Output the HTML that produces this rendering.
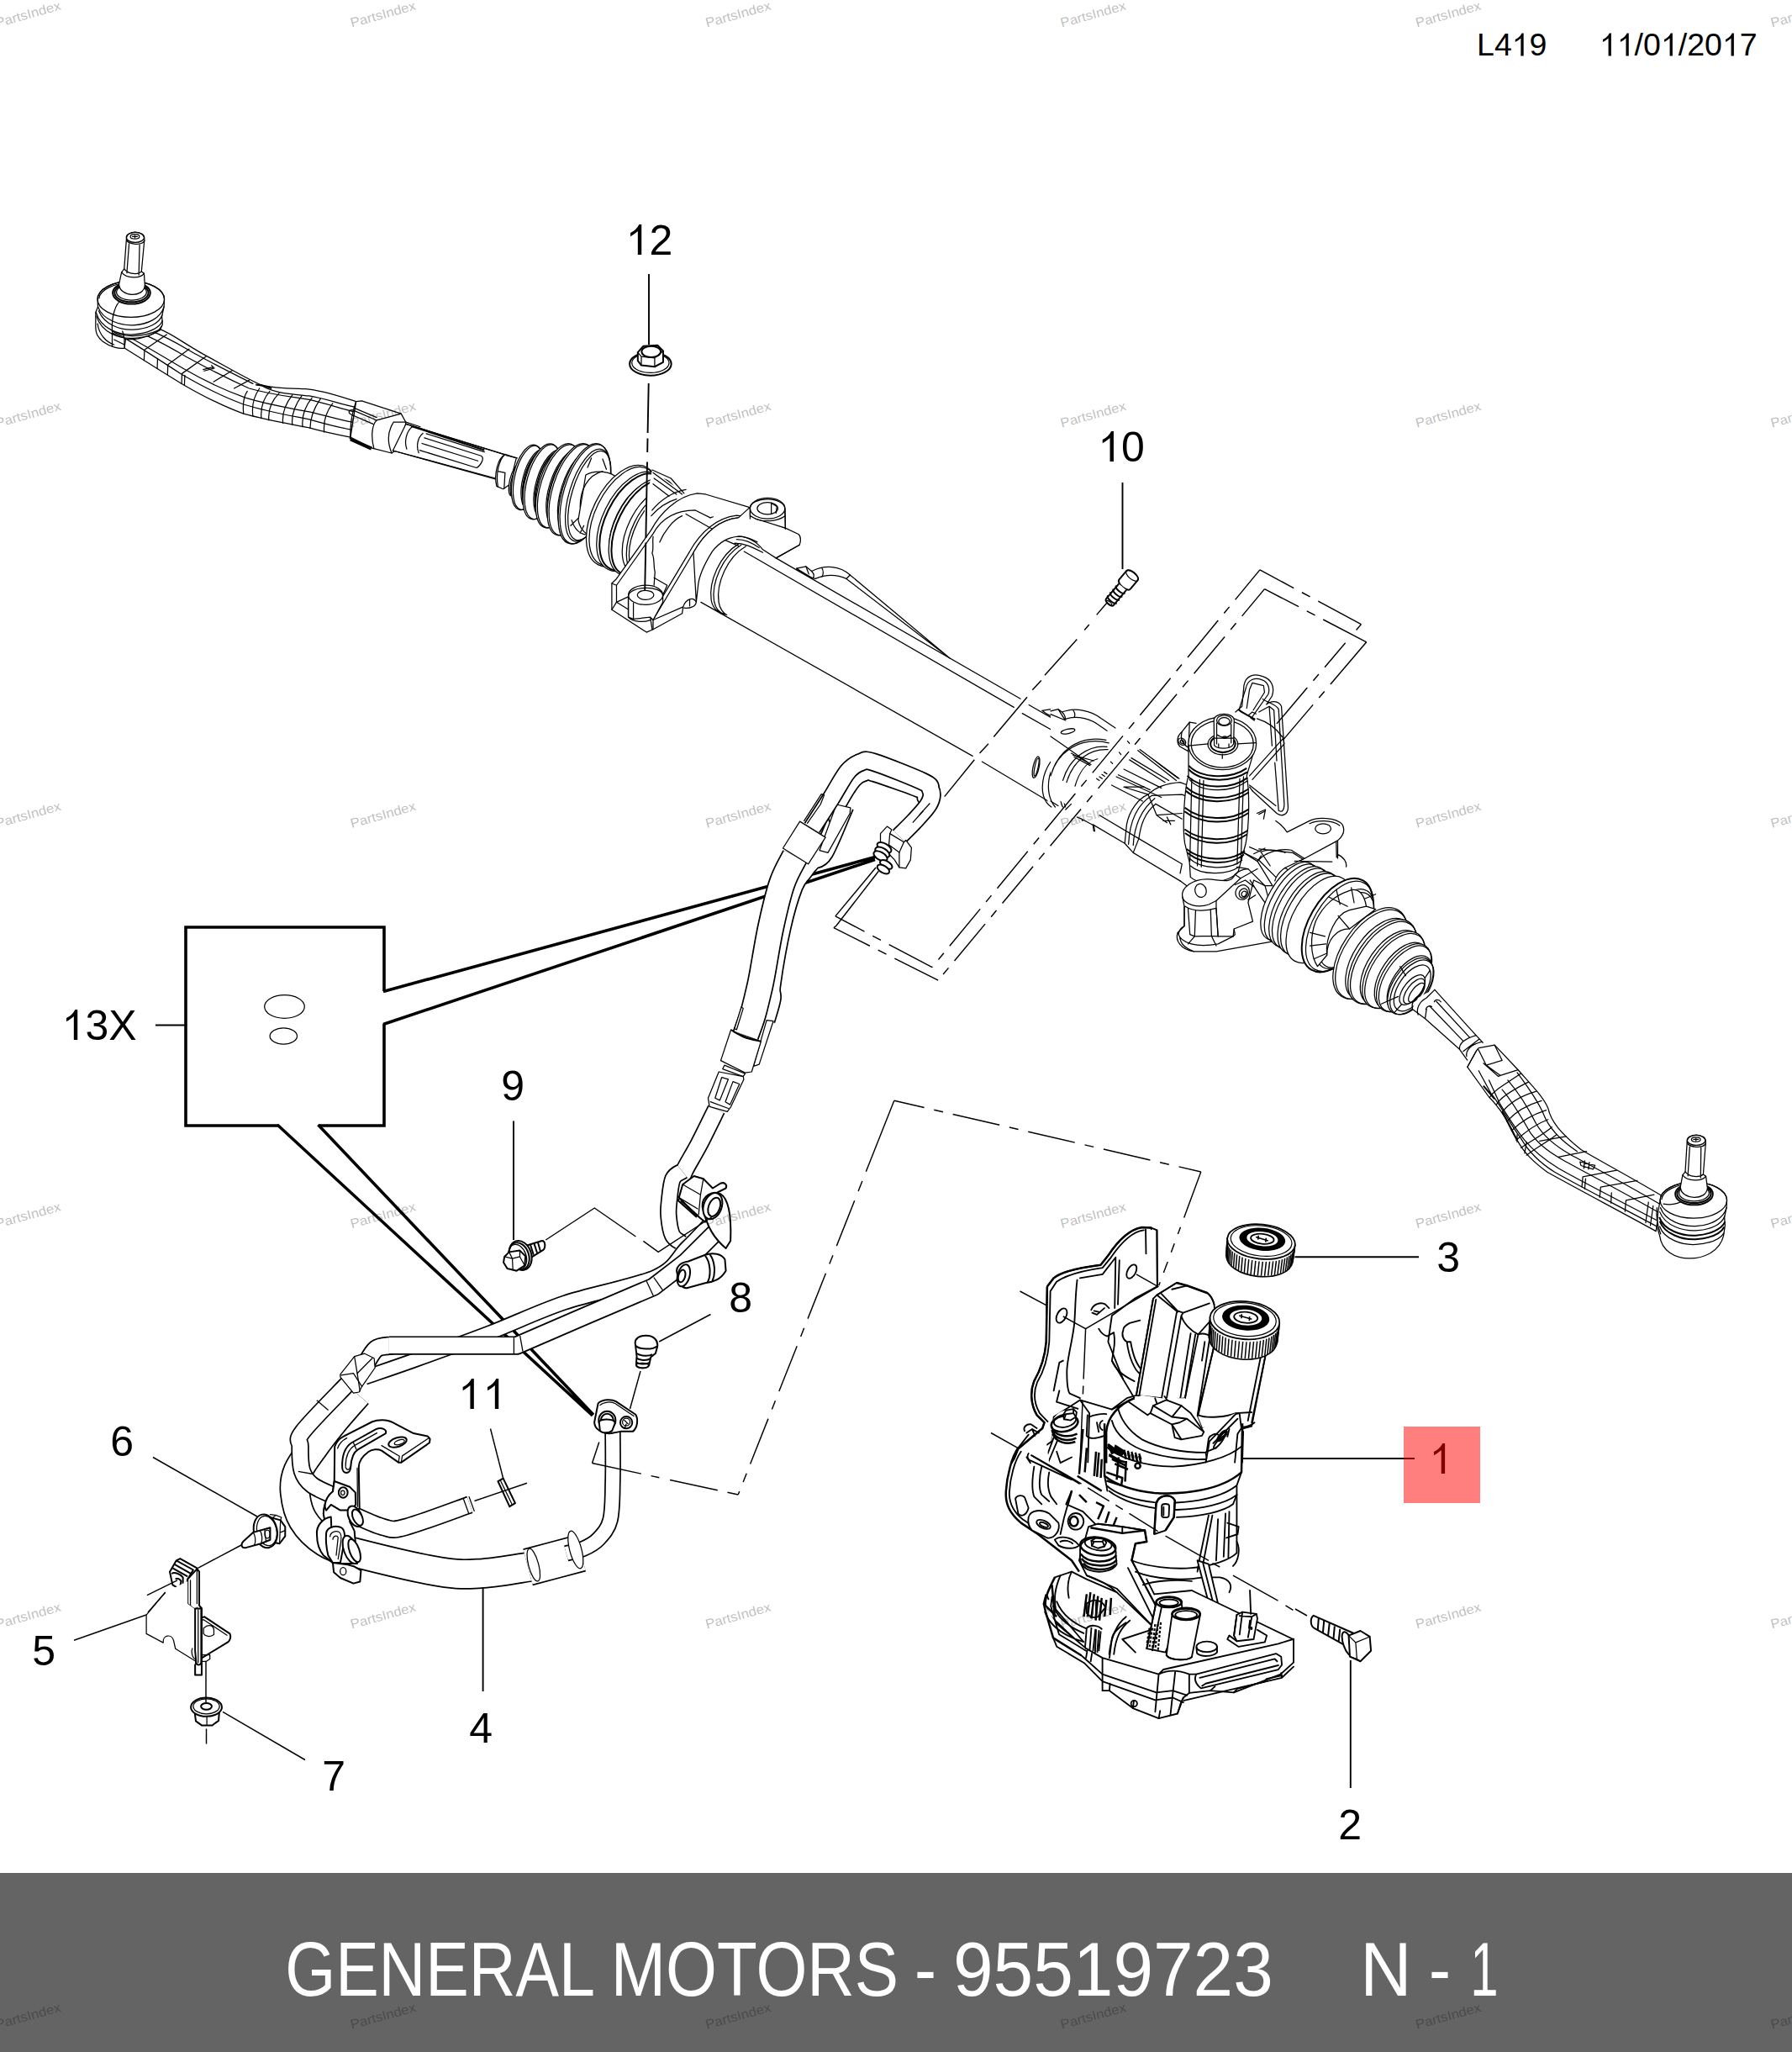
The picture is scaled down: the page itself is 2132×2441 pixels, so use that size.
<!DOCTYPE html>
<html><head><meta charset="utf-8"><title>GENERAL MOTORS - 95519723</title>
<style>
html,body{margin:0;padding:0;background:#fff;}
body{width:2132px;height:2441px;overflow:hidden;font-family:"Liberation Sans",sans-serif;}
svg{display:block;position:absolute;left:0;top:0;}
svg text{font-family:"Liberation Sans",sans-serif;}
.p{fill:none;stroke:#000;stroke-width:1.25;stroke-linecap:round;stroke-linejoin:round;vector-effect:non-scaling-stroke;}
.w{fill:#fff;stroke:#000;stroke-width:1.25;stroke-linecap:round;stroke-linejoin:round;vector-effect:non-scaling-stroke;}
.t{fill:none;stroke:#000;stroke-width:2;stroke-linecap:butt;stroke-linejoin:round;vector-effect:non-scaling-stroke;}
.tw{fill:#fff;stroke:#000;stroke-width:2;stroke-linejoin:round;vector-effect:non-scaling-stroke;}
.k{fill:none;stroke:#000;stroke-width:3.6;stroke-linecap:butt;stroke-linejoin:miter;vector-effect:non-scaling-stroke;}
.l{fill:none;stroke:#000;stroke-width:1.9;stroke-linecap:butt;vector-effect:non-scaling-stroke;}
.d{fill:none;stroke:#000;stroke-width:1.45;stroke-linecap:butt;vector-effect:non-scaling-stroke;}
.b{fill:#000;stroke:none;}
.q{fill:none;stroke:#000;stroke-width:1.85;stroke-linecap:round;stroke-linejoin:round;vector-effect:non-scaling-stroke;}
.wq{fill:#fff;stroke:#000;stroke-width:1.85;stroke-linecap:round;stroke-linejoin:round;vector-effect:non-scaling-stroke;}
.tq{fill:none;stroke:#000;stroke-width:2.5;stroke-linecap:butt;stroke-linejoin:round;vector-effect:non-scaling-stroke;}
.twq{fill:#fff;stroke:#000;stroke-width:2.5;stroke-linejoin:round;vector-effect:non-scaling-stroke;}
.f{fill:#fff;stroke:none;}
.n{font-size:50px;fill:#000;}
.wm{font-size:17.5px;fill:#b9b9b9;}
</style></head><body>
<svg width="2132" height="2441" viewBox="0 0 2132 2441">
<rect x="0" y="0" width="2132" height="2441" fill="#fff"/>
<!-- 10_callout.svg -->
<g id="callout">
<!-- 13X box -->
<path class="k" d="M457,1179 L457,1103 L221,1103 L221,1339 L331,1339 M379.5,1339 L457,1339 L457,1218"/>
<path class="k" d="M456,1179.5 L1041,1019.5 M456,1218.5 L1041,1022.5"/>
<path class="k" d="M330,1338 L705,1684 M378.5,1338 L706,1683"/>
<path class="l" d="M185,1219.5 L221,1219.5"/>
<ellipse class="p" cx="338.5" cy="1197.5" rx="23.8" ry="13.8"/>
<ellipse class="p" cx="337.3" cy="1232.5" rx="16.2" ry="9.6"/>
</g>

<!-- 20_tierod_left.svg -->
<g transform="translate(100,260) scale(0.223214)">
<!-- arm -->
<path class="w" d="M405,590 C470,615 540,670 640,725 C760,790 860,850 940,885 C1010,905 1100,905 1180,908 C1270,915 1370,950 1450,975 L1420,1165 C1340,1150 1290,1140 1200,1115 C1100,1095 980,1075 850,1040 C740,1000 640,950 520,880 C420,820 320,755 215,690 L150,680 L150,600 Z"/>
<path class="p" d="M215,690 L222,640 C320,700 420,765 520,830 C640,900 740,950 850,990 C980,1030 1100,1050 1200,1070 C1290,1095 1340,1110 1425,1125"/>
<path class="p" d="M228,625 C330,680 430,740 530,800 C650,870 750,915 860,955 C990,995 1100,1010 1200,1030 C1290,1050 1350,1070 1430,1085"/>
<path class="p" d="M300,610 C400,650 480,700 560,745 C680,810 780,860 880,905 C1000,940 1110,950 1200,965 C1290,985 1360,1010 1440,1030"/>
<path class="p" d="M360,600 C450,635 520,680 600,725 C700,780 800,830 900,880"/>
<path class="p" d="M940,885 C1000,930 1100,935 1200,945 C1290,960 1370,990 1445,1005"/>
<!-- cross lines -->
<path class="p" d="M320,755 L322,700 L440,618 M390,800 L392,745 M445,832 L447,778 L560,695 M520,880 L522,826 L650,735 M535,888 L537,835 M690,870 L790,810 M800,905 L880,862"/>
<path class="p" d="M850,1040 C845,990 850,950 870,920 M900,1053 C893,1000 900,955 935,905 M945,1065 C940,1010 955,960 990,920 M985,1075 C980,1020 1000,970 1040,930 M1060,1090 C1055,1040 1075,985 1110,940 M1110,1098 C1105,1050 1120,1000 1160,945 M1165,1110 C1160,1060 1175,1005 1215,955 M1205,1118 C1205,1065 1225,1010 1260,960 M1280,1138 C1275,1085 1290,1030 1325,985"/>
<path class="p" d="M635,805 L690,790 M640,812 L695,797 M680,782 L688,800"/>
<path class="t" d="M915,885 L960,892 L1000,905"/>
<!-- lock nut -->
<path class="w" d="M1450,975 L1480,972 L1690,1040 L1715,1085 L1700,1210 L1640,1250 L1540,1225 L1420,1165 Z"/>
<path class="p" d="M1420,1165 C1418,1100 1425,1040 1450,975 M1545,1225 C1525,1150 1540,1090 1560,1075 L1690,1040 M1560,1075 L1430,1020 C1410,1020 1405,1035 1425,1045 L1540,1095 M1640,1250 C1615,1190 1620,1130 1650,1085 L1715,1085 M1440,1010 L1560,1060"/>
<path class="t" d="M1415,1170 L1535,1222 M1418,1180 L1530,1230"/>
<!-- rod stub -->
<path class="p" d="M1715,1085 L1792,1110 M1700,1210 L1792,1245 M1740,1125 C1715,1150 1712,1190 1722,1215 M1785,1160 C1775,1180 1775,1210 1780,1235"/>
<!-- ball housing -->
<path class="w" d="M72,430 C72,377 152,334 250,334 C348,334 428,377 428,430 L426,470 L415,520 L418,565 L405,595 C330,640 260,650 215,640 L215,690 C190,695 140,685 100,655 C70,630 62,610 62,580 L62,500 L74,470 Z"/>
<ellipse class="p" cx="250" cy="430" rx="178" ry="96"/>
<path class="p" d="M80,425 C85,380 160,342 250,342"/>
<path class="p" d="M74,470 C100,545 200,570 260,568 C340,565 410,530 426,470"/>
<path class="p" d="M78,492 C110,570 200,595 262,592 C340,588 400,560 416,515"/>
<path class="p" d="M64,500 C90,590 190,622 262,618 C340,612 400,585 418,545"/>
<path class="p" d="M66,520 C95,610 190,642 262,638 C340,632 395,608 414,572"/>
<path class="p" d="M150,600 C200,630 300,640 405,592"/>
<path class="p" d="M72,560 C80,620 120,660 160,672 M150,600 L150,680 M215,640 L205,600 M160,645 L215,672 M150,610 L210,632"/>
<path class="p" d="M150,600 C145,520 170,450 195,440"/>
<!-- dust ring -->
<ellipse class="tw" cx="253" cy="397" rx="100" ry="58"/>
<ellipse class="t" cx="253" cy="395" rx="90" ry="50"/>
<ellipse class="p" cx="253" cy="392" rx="80" ry="43"/>
<!-- stud -->
<path class="w" d="M226,108 L214,268 L200,286 L186,350 C190,420 320,425 324,355 L320,292 L306,282 L322,112 C322,60 226,60 226,108 Z"/>
<ellipse class="p" cx="273" cy="100" rx="48" ry="27"/>
<ellipse class="p" cx="271" cy="96" rx="24" ry="12"/>
<path class="p" d="M258,96 L284,96 M271,90 L271,102"/>
<path class="p" d="M226,112 C235,140 310,145 322,118 M214,268 C235,298 290,300 306,282 M200,286 C225,320 300,322 320,292 M240,135 L228,290 M296,140 L292,300"/>
</g>

<!-- 22_boot_left.svg -->
<g transform="translate(400,440) scale(0.223214)">
<path class="w" d="M372,288 L900,452 L860,585 L302,430 Z"/>
<path class="t" d="M400,300 L790,428"/>
<path class="p" d="M372,288 L900,452 M302,430 L850,578"/>
<path class="p" d="M405,303 C372,330 362,385 376,422 M462,338 C432,362 426,410 440,442"/>
<path class="p" d="M470,362 L772,458 C795,468 768,512 748,522 L445,428 M457,392 L755,485 M480,340 L790,437"/>
<path class="w" d="M900,450 C860,470 840,560 855,620 L890,635 L925,610 L960,470 Z"/>
<path class="p" d="M900,450 C865,480 850,560 862,622 M862,540 L900,548 L895,632 M905,455 L965,470"/>
<ellipse class="w" cx="955.0" cy="590.0" rx="30.0" ry="85.0" transform="rotate(14.0 955.0 590.0)"/>
<ellipse class="p" cx="968.0" cy="590.0" rx="34.0" ry="95.0" transform="rotate(14.0 968.0 590.0)"/>
<ellipse class="w" cx="1017.5" cy="572.5" rx="74.6" ry="177.7" transform="rotate(13.8 1017.5 572.5)"/>
<ellipse class="p" cx="1024.5" cy="574.5" rx="72.6" ry="174.7" transform="rotate(13.8 1024.5 574.5)"/>
<ellipse class="w" cx="1064.2" cy="585.8" rx="69.5" ry="165.6" transform="rotate(14.6 1064.2 585.8)"/>
<ellipse class="t" cx="1069.2" cy="587.8" rx="66.5" ry="161.6" transform="rotate(14.6 1069.2 587.8)"/>
<ellipse class="w" cx="1095.0" cy="595.0" rx="87.1" ry="207.4" transform="rotate(15.4 1095.0 595.0)"/>
<ellipse class="p" cx="1102.0" cy="597.0" rx="85.1" ry="204.4" transform="rotate(15.4 1102.0 597.0)"/>
<ellipse class="w" cx="1145.5" cy="608.2" rx="79.6" ry="189.5" transform="rotate(16.4 1145.5 608.2)"/>
<ellipse class="t" cx="1150.5" cy="610.2" rx="76.6" ry="185.5" transform="rotate(16.4 1150.5 610.2)"/>
<ellipse class="w" cx="1180.0" cy="617.5" rx="98.0" ry="233.3" transform="rotate(17.5 1180.0 617.5)"/>
<ellipse class="p" cx="1187.0" cy="619.5" rx="96.0" ry="230.3" transform="rotate(17.5 1187.0 619.5)"/>
<ellipse class="w" cx="1224.2" cy="629.5" rx="88.1" ry="209.8" transform="rotate(17.6 1224.2 629.5)"/>
<ellipse class="t" cx="1229.2" cy="631.5" rx="85.1" ry="205.8" transform="rotate(17.6 1229.2 631.5)"/>
<ellipse class="w" cx="1252.5" cy="637.5" rx="106.9" ry="254.6" transform="rotate(17.7 1252.5 637.5)"/>
<ellipse class="p" cx="1259.5" cy="639.5" rx="104.9" ry="251.6" transform="rotate(17.7 1259.5 639.5)"/>
<ellipse class="w" cx="1294.2" cy="650.8" rx="96.0" ry="228.5" transform="rotate(17.3 1294.2 650.8)"/>
<ellipse class="t" cx="1299.2" cy="652.8" rx="93.0" ry="224.5" transform="rotate(17.3 1299.2 652.8)"/>
<ellipse class="w" cx="1320.0" cy="660.0" rx="116.3" ry="276.8" transform="rotate(16.8 1320.0 660.0)"/>
<ellipse class="p" cx="1327.0" cy="662.0" rx="114.3" ry="273.8" transform="rotate(16.8 1327.0 662.0)"/>
<ellipse class="w" cx="1342.0" cy="668.0" rx="100.3" ry="254.8" transform="rotate(16.8 1342.0 668.0)"/>
<ellipse class="p" cx="1350.0" cy="670.0" rx="94.3" ry="246.8" transform="rotate(16.8 1350.0 670.0)"/>
<path class="w" d="M1330,560 C1380,530 1470,540 1500,580 L1420,900 C1360,910 1300,860 1290,800 Z"/>
<path class="p" d="M1300,730 C1300,640 1340,560 1420,540 M1255,800 C1270,850 1300,880 1350,880 M1250,830 L1290,790 M1300,870 L1320,830 M1340,520 L1360,470 M1440,530 L1420,475"/>
</g>

<!-- 24_bracket_left.svg -->
<g transform="translate(700,540) scale(0.223214)">
<!-- bellows section 2 (ridges) -->
<g>
<ellipse class="w" cx="180" cy="330" rx="159" ry="290" transform="rotate(26 180 330)"/>
<ellipse class="p" cx="189" cy="333" rx="152" ry="283" transform="rotate(26 189 333)"/>
<ellipse class="w" cx="216" cy="350" rx="131" ry="250" transform="rotate(26 216 350)"/>
<ellipse class="w" cx="231" cy="360" rx="155" ry="285" transform="rotate(26 231 360)"/>
<ellipse class="t" cx="240" cy="363" rx="148" ry="278" transform="rotate(26 240 363)"/>
<ellipse class="w" cx="272" cy="378" rx="131" ry="250" transform="rotate(26 272 378)"/>
<ellipse class="w" cx="292" cy="390" rx="152" ry="280" transform="rotate(26 292 390)"/>
<ellipse class="t" cx="300" cy="393" rx="145" ry="273" transform="rotate(26 300 393)"/>
<ellipse class="w" cx="337" cy="410" rx="127" ry="245" transform="rotate(26 337 410)"/>
<ellipse class="w" cx="370" cy="425" rx="138" ry="255" transform="rotate(26 370 425)"/>
<ellipse class="p" cx="378" cy="428" rx="132" ry="248" transform="rotate(26 378 428)"/>
</g>
<!-- housing collar behind bracket -->
<path class="f" d="M340,85 L510,210 L700,330 L600,520 L330,560 L300,300 Z"/>
<path class="p" d="M340,85 L440,130 L510,210 M345,100 L500,215 M350,130 L470,215 M345,160 L430,225"/>
<path class="p" d="M340,300 C380,250 450,200 520,190 M335,330 C370,290 420,255 470,240"/>
<!-- tube -->
<path class="f" d="M800,480 L830,520 L2268,1350 L2468,1860 L600,790 C620,640 700,520 800,480 Z"/>
<path class="p" d="M830,520 L2268,1350 M600,790 L2048,1610 M2098,1640 L2468,1860"/>
<path class="p" d="M800,480 C700,540 640,680 655,780 C665,830 700,850 725,855 M840,492 C740,550 680,690 695,790 C700,825 720,850 738,858 M815,485 C715,545 655,685 670,785 C678,830 705,850 730,856"/>
<path class="p" d="M1000,555 L2303,1305"/>
<!-- small pipe on tube -->
<path class="w" d="M1110,610 L1160,600 L1190,625 C1260,590 1340,595 1395,645 L1928,1090 L1375,665 C1330,645 1270,640 1210,665 L1190,660 Z"/>
<path class="p" d="M1190,625 C1205,640 1205,655 1195,662 M1245,608 C1255,625 1252,645 1245,655 M1395,645 L1375,665 M1110,610 L1125,625 L1190,660 M1160,600 L1175,640"/>
<!-- bracket saddle: back arch + top -->
<path class="w" d="M125,690 L150,665 L335,405 C380,320 470,225 580,210 L625,215 L860,285 L860,350 L800,340 C700,350 620,420 560,525 L345,885 L345,935 L310,950 L125,830 Z"/>
<path class="p" d="M150,790 L150,700 L345,425 C395,335 480,300 570,300 L650,340 M150,790 L215,760 M125,690 L150,700"/>
<path class="p" d="M345,885 L330,870 L340,935 M330,870 L540,520 C600,410 690,340 790,328 L860,335 M125,830 L150,790 L215,830"/>
<path class="p" d="M345,440 C340,480 350,500 340,530 C355,560 345,590 355,630 L350,700 M500,330 C450,350 400,420 380,470 M520,320 L660,400 M650,340 L665,335"/>
<!-- boss with hole -->
<path class="w" d="M213,760 C213,700 397,700 397,755 L397,790 L345,885 L330,870 L240,880 L213,870 Z"/>
<ellipse class="p" cx="305" cy="752" rx="92" ry="52"/>
<ellipse class="p" cx="305" cy="752" rx="44" ry="25"/>
<path class="p" d="M213,760 L213,870 M240,795 L240,880 M213,870 C240,895 290,900 330,885"/>
<path class="p" d="M345,885 L505,815 M345,935 L500,850 L505,815 C520,770 560,760 575,790 C570,815 540,825 510,820 M540,775 L540,810"/>
<path class="p" d="M350,660 L420,700 L400,745 M585,700 C560,690 570,660 590,650 M590,650 L600,600 C590,590 600,570 610,560"/>
<!-- front arch right leg and top plate -->
<path class="w" d="M860,285 L870,330 L1050,395 L1120,428 C1135,440 1132,470 1125,485 L1000,555 L930,510 C900,470 850,440 800,440 C740,445 700,470 660,520 C610,600 590,650 585,700 L575,790 L560,525 C620,420 700,350 800,340 Z"/>
<path class="p" d="M730,460 L800,490 M800,440 C850,440 880,460 900,470 M790,455 C840,455 880,478 910,500 M780,475 C830,475 870,495 930,525 M1000,555 L1125,485 M1050,395 L1050,400"/>
<!-- top-right boss -->
<path class="w" d="M862,290 C862,225 1048,225 1048,295 L1050,395 L890,345 L862,330 Z"/>
<ellipse class="p" cx="955" cy="290" rx="93" ry="55"/>
<ellipse class="p" cx="955" cy="290" rx="55" ry="32"/>
<path class="p" d="M975,262 L1005,280 L1000,315 M975,262 L975,320 M862,290 L862,345 M1048,295 L1050,395 M890,345 C930,365 1010,360 1048,330"/>
</g>

<!-- 26_valve_collar.svg -->
<g transform="translate(1050,660) scale(0.223214)">
<!-- collar where tube meets valve housing -->
<path class="f" d="M850,830 L905,822 L930,845 C1000,815 1080,830 1130,870 L1250,950 L1300,1000 L1792,1200 L1792,1344 L900,1344 C850,1280 840,1150 870,1050 C890,990 930,950 980,940 L850,845 Z"/>
<path class="p" d="M780,800 L1085,975 M745,845 L1010,995"/>
<path class="p" d="M850,830 L905,822 L930,845 C1000,815 1080,830 1130,870 L1250,950 M850,830 L870,845 L945,885 M905,822 L945,885 C990,860 1060,865 1110,900 L1205,975 M930,845 C950,860 950,880 945,885 M990,828 C1000,845 1000,860 995,868 M1130,870 L1118,905"/>
<ellipse class="p" cx="985" cy="940" rx="38" ry="12" transform="rotate(-12 985 940)"/>
<ellipse class="p" cx="988" cy="941" rx="28" ry="7" transform="rotate(-12 988 941)"/>
<ellipse class="p" cx="818" cy="1132" rx="16" ry="58" transform="rotate(12 818 1132)"/>
<ellipse class="p" cx="820" cy="1132" rx="9" ry="48" transform="rotate(12 820 1132)"/>
<path class="p" d="M1200,1000 C1050,960 900,1040 860,1180 C840,1260 860,1320 900,1344"/>
<path class="p" d="M1180,985 C1060,960 930,1030 890,1180 C875,1250 890,1310 920,1344"/>
<path class="p" d="M1190,1020 C1090,1010 990,1080 955,1200 C940,1260 945,1310 960,1344"/>
<path class="p" d="M1200,1035 C1100,1030 1010,1090 975,1210 C960,1270 965,1320 975,1344"/>
<path class="p" d="M1140,1085 C1080,1100 1040,1160 1020,1230"/>
<path class="p" d="M1010,1065 L1120,1095 M1015,1075 L1100,1120 M1020,1085 C1040,1110 1050,1120 1085,1140"/>
<path class="p" d="M1355,1040 L1560,1200 M1365,1035 L1575,1190 M1310,1090 L1500,1210 M1320,1080 L1520,1200 M1240,1180 L1480,1290 M1250,1170 L1420,1250 M1215,1225 L1380,1310 M1280,1140 L1480,1240"/>
<path class="p" d="M1135,1190 L1150,1200 M1150,1180 L1165,1190 M1163,1168 L1178,1178 M1175,1155 L1190,1165 M1210,1100 L1220,1110 M1255,1050 L1265,1062 M1300,990 L1310,1002"/>
</g>

<!-- 28_pinion_tower.svg -->
<g transform="translate(1250,780) scale(0.223214)">
<!-- housing body behind tower -->
<path class="f" d="M0,280 L60,290 C150,270 230,300 280,340 L400,420 L640,640 L735,700 L735,1180 L690,1200 L420,1020 L380,960 L0,745 Z"/>
<!-- pipe clip upper-left -->
<path class="p" d="M0,295 L40,285 L60,300 C130,275 215,290 270,335 L345,385 M0,312 L80,345 M40,285 L75,340 C120,320 190,325 245,362 L300,400 M60,300 C78,315 80,335 75,340 M120,290 C130,305 130,320 126,328"/>
<ellipse class="p" cx="92" cy="403" rx="38" ry="12" transform="rotate(-12 92 403)"/>
<path class="p" d="M0,430 L215,580 M110,520 L215,580"/>
<!-- collar arcs -->
<path class="p" d="M310,465 C170,430 40,500 0,640 M295,450 C180,425 60,480 10,610 M300,485 C200,475 100,545 65,665 M305,500 C210,495 120,555 85,675 M250,550 C190,565 150,625 130,695"/>
<path class="p" d="M120,530 L230,560 M125,540 L210,585"/>
<path class="p" d="M465,505 L670,665 M475,500 L685,655 M420,555 L610,675 M430,545 L630,665 M350,645 L590,755 M360,635 L530,715 M325,690 L490,775 M390,605 L590,705"/>
<path class="p" d="M245,655 L260,665 M260,645 L275,655 M273,633 L288,643 M285,620 L300,630 M320,565 L330,575 M365,515 L375,527 M410,455 L420,467"/>
<path class="p" d="M0,775 L40,800 M80,820 L110,790 M140,860 L165,870 L230,905 L235,935 M165,870 L170,880"/>
<!-- rack housing lower body -->
<path class="p" d="M225,900 L395,1000 L440,1050 L690,1200 M260,850 L470,975 M230,935 L225,900 M395,1000 L405,900 C420,820 470,760 520,740 M415,1005 C420,900 450,800 540,745 M440,1010 C445,920 470,830 555,760 M470,975 C480,900 500,840 560,790 M440,1050 L470,975"/>
<path class="p" d="M520,740 C560,700 620,680 690,675 L730,690 M540,745 L700,740 L730,752 M500,700 L390,700 L520,740 M520,740 L565,850 L700,840 M565,850 L620,890 M620,860 L640,900 M600,880 L660,880"/>
<path class="p" d="M470,975 L700,1110 M560,790 L700,870 M690,1200 L730,1230 M690,1160 L700,1110"/>
<!-- right mounting ear / body behind -->
<path class="f" d="M1060,640 L1150,700 L1260,940 L1380,880 C1420,860 1520,860 1555,900 C1570,930 1560,960 1530,985 L1530,1080 L1345,1085 L1290,1050 L1060,1000 Z"/>
<path class="p" d="M1260,940 L1380,880 C1420,860 1520,860 1555,900 C1570,930 1560,960 1530,985 L1345,1085 L1290,1050 M1380,895 C1420,875 1500,875 1540,905 M1110,1030 L1290,1050 L1345,1085 M1530,985 L1530,1080 M1522,990 L1524,1075 M1530,1060 C1560,1070 1580,1100 1575,1125 M1260,940 C1250,925 1230,900 1200,880"/>
<ellipse class="p" cx="1452" cy="922" rx="42" ry="27"/>
<path class="p" d="M1060,1020 L1120,1045 L1170,1120 M1030,1050 L1110,1090 L1200,1180 M1120,1045 C1160,1030 1220,1035 1250,1050 M1345,1085 L1250,1130 C1220,1150 1200,1180 1195,1200 M1250,1130 L1290,1160 M1300,1095 L1500,1098"/>

<!-- retaining wire clip -->
<path class="p" d="M985,300 L1020,270 L1030,160 C1040,100 1090,95 1130,110 C1180,125 1195,170 1180,215 L1150,260 C1170,240 1215,235 1230,270 L1265,800 C1270,850 1230,860 1205,840 L1075,720"/>
<path class="p" d="M1005,285 L1040,175 C1050,125 1090,115 1125,128 C1160,140 1170,175 1160,205 L1075,325 M1060,180 L1075,145 L1135,160 L1140,195 L1080,290 M1060,180 L1045,280 M1130,230 C1150,250 1200,255 1215,285 L1245,790 C1245,830 1230,835 1215,825 L1195,570 M1110,300 L1165,270 L1190,290 L1205,560 M1165,270 L1180,480"/>
<path class="p" d="M1100,335 C1150,350 1200,380 1240,440 L1060,640 M1240,440 L1245,470 L1075,660 M1060,690 L1200,800 M1075,720 L1060,700 M1100,840 L1145,820 L1135,870 M1110,845 L1140,830"/>
<path class="t" d="M1000,285 C1010,300 1050,315 1090,340"/>
<path class="p" d="M1050,320 L1075,300 L1095,310 M1065,330 L1085,345"/>
<!-- left small ear w/ screw -->
<path class="w" d="M740,355 L700,405 C670,430 670,465 690,485 L735,510 Z"/>
<path class="p" d="M740,355 L775,360 M700,405 C690,440 700,470 735,490"/>
<ellipse class="p" cx="700" cy="458" rx="22" ry="16" transform="rotate(35 700 458)"/>
<ellipse class="p" cx="702" cy="460" rx="12" ry="8" transform="rotate(35 702 460)"/>
<!-- tower cage body -->
<path class="w" d="M735,470 L735,640 C715,700 700,900 715,1000 L740,1100 L745,1180 C800,1230 960,1210 1000,1150 L1040,1000 C1060,900 1060,720 1045,640 L1095,470 Z"/>
<!-- cage rings -->
<path class="t" d="M735,585 C800,655 960,660 1045,600"/>
<path class="t" d="M735,605 C800,675 960,680 1048,620"/>
<path class="t" d="M728,640 C800,712 960,716 1050,650"/>
<path class="t" d="M722,700 C800,772 960,776 1055,710"/>
<path class="t" d="M720,720 C800,790 960,796 1056,728"/>
<path class="t" d="M715,810 C800,880 960,884 1056,818"/>
<path class="t" d="M714,830 C800,900 960,904 1055,838"/>
<path class="t" d="M714,925 C800,992 960,996 1050,932"/>
<path class="t" d="M716,945 C800,1012 960,1016 1046,952"/>
<path class="t" d="M725,1030 C800,1095 960,1100 1035,1040"/>
<path class="t" d="M730,1050 C800,1115 960,1120 1030,1060"/>

<path class="p" d="M740,660 C800,730 960,735 1048,668 M740,1080 C800,1140 960,1145 1020,1090 M745,1120 C800,1170 940,1172 1005,1125"/>
<path class="p" d="M795,660 L782,1120 M815,665 L803,1125 M1008,655 L994,1110 M1028,645 L1014,1098 M752,655 L742,1095"/>
<!-- top cap -->
<ellipse class="w" cx="915" cy="468" rx="181" ry="140"/>
<ellipse class="p" cx="915" cy="470" rx="166" ry="126"/>
<path class="p" d="M735,480 L840,470 M995,470 L1095,464 M915,525 L915,548"/>
<ellipse class="p" cx="918" cy="472" rx="80" ry="56"/>
<ellipse class="t" cx="918" cy="470" rx="66" ry="45"/>
<!-- shaft -->
<path class="w" d="M870,345 C870,300 978,300 978,345 L975,470 C960,500 890,500 872,478 Z"/>
<ellipse class="p" cx="925" cy="345" rx="40" ry="28"/>
<ellipse class="p" cx="925" cy="350" rx="30" ry="20"/>
<path class="p" d="M885,360 L885,470 M962,365 L962,465 M885,420 C910,440 945,440 962,420 M870,440 L975,440 M895,470 L895,490 M950,470 L950,488"/>
<ellipse class="p" cx="928" cy="435" rx="10" ry="6"/>
</g>

<!-- 30_boot_right.svg -->
<g transform="translate(1380,980) scale(0.223214)">
<path class="w" d="M120,390 C110,340 180,290 260,295 C330,300 380,320 400,270 L430,290 L300,410 L300,450 L310,600 L390,600 L395,560 L495,520 L470,420 L500,300 L560,330 L640,620 L300,680 L180,680 C110,670 80,620 95,580 L130,545 L130,440 Z"/>
<path class="p" d="M120,390 C130,430 200,450 260,430 L300,410 M135,440 C180,470 250,465 300,450 M130,440 L130,545 M150,452 L160,590 M190,462 L185,600 M270,458 L275,598 M300,450 L310,600 M160,590 L185,600 L275,598 L310,600 M95,580 C110,640 200,660 310,640 L390,600 M130,545 C110,555 100,570 100,590 M180,680 C130,660 110,640 105,600 M185,600 L150,640 M275,598 L300,650"/>
<ellipse class="p" cx="217.0" cy="356.0" rx="36.0" ry="30.0" transform="rotate(75.0 217.0 356.0)"/>
<path class="p" d="M400,270 C420,250 440,240 470,240 M430,290 L520,240 M395,560 L400,590 L390,600"/>
<ellipse class="w" cx="440.0" cy="365.0" rx="36.0" ry="40.0" transform="rotate(30.0 440.0 365.0)"/>
<ellipse class="p" cx="445.0" cy="370.0" rx="22.0" ry="26.0" transform="rotate(30.0 445.0 370.0)"/>
<ellipse class="p" cx="448.0" cy="373.0" rx="12.0" ry="15.0" transform="rotate(30.0 448.0 373.0)"/>
<path class="p" d="M400,325 L455,300 L500,335 M470,405 L510,380 M480,300 C500,330 530,380 560,420"/>
<path class="p" d="M440,150 L520,200 L600,330 M520,200 C560,150 640,130 700,140 L770,185 M600,330 L560,330 M410,230 L470,240 L560,330 M500,160 L560,130 M520,200 L540,170"/>
<ellipse class="w" cx="688.0" cy="412.0" rx="112.0" ry="232.0" transform="rotate(30.0 688.0 412.0)"/>
<ellipse class="p" cx="708.0" cy="424.0" rx="112.0" ry="232.0" transform="rotate(30.0 708.0 424.0)"/>
<ellipse class="w" cx="738.0" cy="442.0" rx="118.0" ry="238.0" transform="rotate(30.0 738.0 442.0)"/>
<ellipse class="p" cx="755.0" cy="452.0" rx="118.0" ry="238.0" transform="rotate(30.0 755.0 452.0)"/>
<ellipse class="w" cx="790.0" cy="474.0" rx="124.0" ry="244.0" transform="rotate(30.0 790.0 474.0)"/>
<ellipse class="p" cx="806.0" cy="484.0" rx="124.0" ry="244.0" transform="rotate(30.0 806.0 484.0)"/>
<ellipse class="w" cx="845.0" cy="510.0" rx="135.0" ry="255.0" transform="rotate(30.0 845.0 510.0)"/>
<ellipse class="tw" cx="945.0" cy="540.0" rx="150.0" ry="275.0" transform="rotate(30.0 945.0 540.0)"/>
<ellipse class="p" cx="958.0" cy="546.0" rx="142.0" ry="265.0" transform="rotate(30.0 958.0 546.0)"/>
<ellipse class="w" cx="985.0" cy="560.0" rx="118.0" ry="235.0" transform="rotate(30.0 985.0 560.0)"/>
<ellipse class="p" cx="995.0" cy="566.0" rx="108.0" ry="222.0" transform="rotate(30.0 995.0 566.0)"/>
<path class="w" d="M1000,360 C1060,330 1090,380 1100,440 L1150,455 L1010,560 C940,560 890,620 890,700 L840,760 C800,700 800,600 830,520 C870,430 940,380 1000,360 Z"/>
<path class="p" d="M890,700 C880,600 940,480 1010,460 L1100,440 M940,350 L960,430 M1020,340 L1035,420 M900,390 L1000,440 M800,580 L880,600 M800,650 L885,640 M820,720 L890,690 M1010,560 L950,490 M1150,375 L1090,400"/>
<ellipse class="w" cx="1120.0" cy="690.0" rx="150.0" ry="275.0" transform="rotate(34.0 1120.0 690.0)"/>
<ellipse class="p" cx="1128.0" cy="696.0" rx="145.0" ry="270.0" transform="rotate(34.0 1128.0 696.0)"/>
<ellipse class="w" cx="1166.5" cy="722.5" rx="134.0" ry="247.0" transform="rotate(34.0 1166.5 722.5)"/>
<ellipse class="w" cx="1185.0" cy="735.0" rx="138.0" ry="255.0" transform="rotate(34.0 1185.0 735.0)"/>
<ellipse class="p" cx="1193.0" cy="741.0" rx="133.0" ry="250.0" transform="rotate(34.0 1193.0 741.0)"/>
<ellipse class="w" cx="1229.0" cy="766.5" rx="121.5" ry="225.5" transform="rotate(34.0 1229.0 766.5)"/>
<ellipse class="w" cx="1245.0" cy="778.0" rx="125.0" ry="232.0" transform="rotate(34.0 1245.0 778.0)"/>
<ellipse class="p" cx="1253.0" cy="784.0" rx="120.0" ry="227.0" transform="rotate(34.0 1253.0 784.0)"/>
<ellipse class="w" cx="1286.5" cy="809.0" rx="107.5" ry="200.5" transform="rotate(34.0 1286.5 809.0)"/>
<ellipse class="w" cx="1300.0" cy="820.0" rx="110.0" ry="205.0" transform="rotate(34.0 1300.0 820.0)"/>
<ellipse class="p" cx="1308.0" cy="826.0" rx="105.0" ry="200.0" transform="rotate(34.0 1308.0 826.0)"/>
<ellipse class="w" cx="1331.5" cy="852.5" rx="91.0" ry="169.5" transform="rotate(34.0 1331.5 852.5)"/>
<ellipse class="w" cx="1335.0" cy="865.0" rx="92.0" ry="170.0" transform="rotate(34.0 1335.0 865.0)"/>
<ellipse class="p" cx="1343.0" cy="871.0" rx="87.0" ry="165.0" transform="rotate(34.0 1343.0 871.0)"/>
<ellipse class="p" cx="1345.0" cy="875.0" rx="72.0" ry="140.0" transform="rotate(34.0 1345.0 875.0)"/>
<path class="p" d="M1280,760 L1310,810 M1440,780 L1400,840 M1180,960 L1270,920 M1250,1005 L1290,960"/>
<ellipse class="w" cx="1345.0" cy="885.0" rx="45.0" ry="95.0" transform="rotate(38.0 1345.0 885.0)"/>
<ellipse class="p" cx="1355.0" cy="892.0" rx="36.0" ry="80.0" transform="rotate(38.0 1355.0 892.0)"/>
<ellipse class="p" cx="1368.0" cy="900.0" rx="26.0" ry="62.0" transform="rotate(38.0 1368.0 900.0)"/>
</g>

<!-- 34_tierod_right.svg -->
<g transform="translate(1680,1180) scale(0.223214)">
<!-- arm -->
<path class="w" d="M350,300 L440,283 L560,410 C640,500 700,560 725,620 C740,690 790,750 900,840 C1000,900 1100,950 1330,1085 L1300,1275 C1100,1165 900,1060 720,960 C640,900 600,860 560,790 C520,700 470,620 410,560 L295,400 Z"/>
<path class="p" d="M350,300 L295,400 M350,300 L395,390 L480,365 L440,283 M395,390 L470,445 L565,415 M470,445 L460,450 L380,380 M355,420 L420,540 M410,470 L470,600"/>
<path class="t" d="M380,500 L440,570 M480,640 C510,690 530,740 560,790"/>
<path class="p" d="M420,540 C470,600 520,700 580,780 C620,850 680,910 760,960 C900,1040 1100,1140 1305,1250"/>
<path class="p" d="M470,600 C510,660 550,730 600,790 C650,850 700,890 780,940 C920,1020 1100,1110 1310,1220"/>
<path class="p" d="M510,470 C570,540 620,620 660,700 C700,770 760,820 850,870 C980,940 1150,1030 1320,1130"/>
<path class="p" d="M560,430 C620,510 670,580 700,650 C730,730 790,790 880,850"/>
<path class="p" d="M480,520 C540,590 590,680 630,750 C680,820 740,860 820,905 C950,975 1120,1065 1315,1175"/>
<!-- cross mesh -->
<path class="p" d="M415,560 C440,520 500,490 580,435 M450,600 C470,560 540,520 620,480 M480,640 C520,590 590,550 660,530 M505,690 C550,640 620,600 690,580 M530,740 C580,690 650,650 715,630 M555,790 C610,740 670,700 725,680 M580,830 C640,790 700,760 745,720 M610,870 C660,830 720,800 770,760 M560,800 L560,760 M600,860 L610,800"/>
<path class="p" d="M680,795 L820,770 M780,880 L930,850 M905,1040 L910,985 L1090,950 M920,1050 L925,995 M1000,1095 L1005,1040 L1200,1005 M1060,1125 L1063,1070 M1135,1170 L1140,1110 L1290,1080 M1245,1230 L1260,1120 M1270,1245 L1285,1140"/>
<path class="p" d="M895,905 L975,925 L965,945 L900,925 Z M920,900 L915,940 M945,908 L940,945"/>
<!-- ball housing -->
<path class="w" d="M1322,1110 C1322,1057 1402,1014 1500,1014 C1598,1014 1678,1057 1678,1110 L1676,1150 L1665,1200 L1668,1245 L1660,1300 C1640,1380 1560,1420 1480,1420 C1400,1420 1330,1380 1320,1300 L1305,1250 L1310,1180 Z"/>
<ellipse class="p" cx="1500" cy="1110" rx="178" ry="96"/>
<path class="p" d="M1330,1105 C1335,1060 1410,1022 1500,1022"/>
<path class="p" d="M1324,1150 C1350,1225 1450,1250 1510,1248 C1590,1245 1660,1210 1676,1150"/>
<path class="p" d="M1320,1172 C1350,1250 1450,1275 1512,1272 C1590,1268 1650,1240 1666,1195"/>
<path class="t" d="M1318,1200 C1340,1270 1440,1302 1512,1298 C1590,1292 1650,1265 1668,1225"/>
<path class="t" d="M1320,1222 C1345,1290 1440,1322 1512,1318 C1590,1312 1645,1288 1664,1252"/>
<path class="p" d="M1320,1250 C1345,1320 1440,1350 1512,1346 C1590,1340 1640,1320 1662,1285"/>
<path class="p" d="M1305,1150 C1300,1200 1310,1250 1325,1290 M1340,1130 C1400,1140 1440,1120 1450,1100"/>
<!-- dust ring -->
<ellipse class="tw" cx="1503" cy="1077" rx="100" ry="58"/>
<ellipse class="t" cx="1503" cy="1075" rx="90" ry="50"/>
<ellipse class="p" cx="1503" cy="1072" rx="80" ry="43"/>
<!-- stud -->
<path class="w" d="M1466,798 L1456,958 L1442,976 L1430,1040 C1434,1110 1570,1115 1574,1045 L1566,982 L1552,972 L1565,802 C1565,750 1466,750 1466,798 Z"/>
<ellipse class="p" cx="1515" cy="790" rx="49" ry="27"/>
<ellipse class="p" cx="1513" cy="786" rx="24" ry="12"/>
<path class="p" d="M1500,786 L1526,786 M1513,780 L1513,792"/>
<path class="p" d="M1466,802 C1475,830 1550,835 1565,808 M1456,958 C1477,988 1532,990 1552,972 M1442,976 C1467,1010 1546,1012 1566,982 M1480,825 L1470,980 M1540,830 L1538,990"/>
</g>

<!-- 35_rod_right.svg -->
<g transform="translate(1580,1100) scale(0.167411)">
<path class="f" d="M598,598 L640,520 L700,485 L758,462 L1100,838 L985,965 L935,890 Z"/>
<path class="p" d="M758,462 L1052,786 M600,600 L690,668 L935,886 M770,545 L1005,800 M722,578 L962,828 M700,600 L690,668"/>
<path class="p" d="M755,548 C762,528 790,530 802,548 M695,602 C700,580 722,572 738,582"/>
<path class="p" d="M935,886 C930,850 965,812 1052,786 M985,935 C978,892 1012,852 1090,832 M935,886 L990,962 M1052,786 L1100,838 M960,900 L1075,812"/>
<path class="p" d="M600,600 C590,560 610,520 650,500 M640,640 C625,600 645,550 700,520 L758,462"/>
</g>

<!-- 40_hoses.svg -->
<g id="hoses">
<path d="M1004.0,958.1 C1000.0,967.3 986.2,1002.2 979.9,1013.0 C973.6,1023.8 970.2,1019.0 966.1,1022.9 C961.9,1026.7 958.7,1031.0 954.9,1036.2 C951.1,1041.5 947.5,1043.3 943.3,1054.1 C939.1,1064.9 933.9,1081.6 929.5,1101.0 C925.1,1120.3 919.0,1155.7 917.0,1170.2 C914.9,1184.7 918.2,1180.7 917.1,1187.9 C915.9,1195.2 911.1,1209.3 909.9,1213.6" fill="none" stroke="#000" stroke-width="25.40" stroke-linecap="butt" stroke-linejoin="round"/>
<path d="M1004.0,958.1 C1000.0,967.3 986.2,1002.2 979.9,1013.0 C973.6,1023.8 970.2,1019.0 966.1,1022.9 C961.9,1026.7 958.7,1031.0 954.9,1036.2 C951.1,1041.5 947.5,1043.3 943.3,1054.1 C939.1,1064.9 933.9,1081.6 929.5,1101.0 C925.1,1120.3 919.0,1155.7 917.0,1170.2 C914.9,1184.7 918.2,1180.7 917.1,1187.9 C915.9,1195.2 911.1,1209.3 909.9,1213.6" fill="none" stroke="#fff" stroke-width="22.00" stroke-linecap="butt" stroke-linejoin="round"/>

<path d="M992.9,973.8 C994.0,971.0 995.9,964.4 1000.0,957.0 C1004.1,949.6 1012.5,935.4 1017.4,929.6 C1022.4,923.7 1026.0,923.1 1029.7,922.0 C1033.3,920.8 1028.3,919.4 1039.3,922.9 C1050.3,926.4 1085.7,938.5 1095.5,942.9 C1105.4,947.4 1097.8,948.5 1098.2,949.6" fill="none" stroke="#000" stroke-width="15.40" stroke-linecap="round" stroke-linejoin="round"/>
<path d="M992.9,973.8 C994.0,971.0 995.9,964.4 1000.0,957.0 C1004.1,949.6 1012.5,935.4 1017.4,929.6 C1022.4,923.7 1026.0,923.1 1029.7,922.0 C1033.3,920.8 1028.3,919.4 1039.3,922.9 C1050.3,926.4 1085.7,938.5 1095.5,942.9 C1105.4,947.4 1097.8,948.5 1098.2,949.6" fill="none" stroke="#fff" stroke-width="12.00" stroke-linecap="round" stroke-linejoin="round"/>

<path class="w" d="M975.0,1011.7 L995.1,957.0 L1011.8,960.8 L1011.2,967.5 L985.0,1014.4 Z"/>
<path d="M966.1,984.9 C969.8,979.1 981.3,961.5 988.4,950.3 C995.5,939.2 1002.5,925.2 1008.5,917.9 C1014.4,910.7 1018.9,908.6 1024.1,906.8 C1029.3,904.9 1027.3,902.9 1039.7,906.8 C1052.2,910.7 1087.6,924.8 1098.9,930.2 C1110.1,935.6 1105.6,936.2 1107.1,939.2 C1108.7,942.1 1108.9,944.7 1108.3,948.1 C1107.6,951.4 1106.8,954.4 1103.3,959.2 C1099.9,964.1 1093.3,971.1 1087.7,977.1 C1082.1,983.1 1072.8,992.0 1069.9,995.0" fill="none" stroke="#000" stroke-width="22.40" stroke-linecap="butt" stroke-linejoin="round"/>
<path d="M966.1,984.9 C969.8,979.1 981.3,961.5 988.4,950.3 C995.5,939.2 1002.5,925.2 1008.5,917.9 C1014.4,910.7 1018.9,908.6 1024.1,906.8 C1029.3,904.9 1027.3,902.9 1039.7,906.8 C1052.2,910.7 1087.6,924.8 1098.9,930.2 C1110.1,935.6 1105.6,936.2 1107.1,939.2 C1108.7,942.1 1108.9,944.7 1108.3,948.1 C1107.6,951.4 1106.8,954.4 1103.3,959.2 C1099.9,964.1 1093.3,971.1 1087.7,977.1 C1082.1,983.1 1072.8,992.0 1069.9,995.0" fill="none" stroke="#fff" stroke-width="19.00" stroke-linecap="butt" stroke-linejoin="round"/>

<path d="M1085.8,978.6 L1098.5,964.5" fill="none" stroke="#000" stroke-width="1.3"/>
<path d="M1093.6,969.6 L1106.4,955.5" fill="none" stroke="#000" stroke-width="1.3"/>
<path d="M946.0,1018.4 C943.4,1023.8 935.2,1036.6 930.4,1050.8 C925.5,1064.9 920.9,1085.2 917.0,1103.2 C913.1,1121.3 909.2,1146.8 906.9,1159.0 C904.6,1171.3 905.1,1168.6 903.2,1176.8 C901.3,1185.0 898.1,1198.9 895.4,1208.0 C892.7,1217.2 888.5,1227.6 887.1,1231.5" fill="none" stroke="#000" stroke-width="32.40" stroke-linecap="butt" stroke-linejoin="round"/>
<path d="M946.0,1018.4 C943.4,1023.8 935.2,1036.6 930.4,1050.8 C925.5,1064.9 920.9,1085.2 917.0,1103.2 C913.1,1121.3 909.2,1146.8 906.9,1159.0 C904.6,1171.3 905.1,1168.6 903.2,1176.8 C901.3,1185.0 898.1,1198.9 895.4,1208.0 C892.7,1217.2 888.5,1227.6 887.1,1231.5" fill="none" stroke="#fff" stroke-width="29.00" stroke-linecap="butt" stroke-linejoin="round"/>

<path class="w" d="M931.5,1009.0 L951.6,977.1 L982.1,996.1 L961.6,1027.8 Z"/>
<path class="p" d="M956.7,976.4 L977.2,944.7 L980.6,945.8 L976.1,957.0 L960.5,979.3"/>
<path class="w" d="M1047.5,991.6 L1055.4,983.1 L1060.9,987.1 L1058.7,991.6 L1075.4,1001.7 L1077.7,999.4 L1084.4,1008.3 L1083.3,1022.9 L1077.7,1032.9 L1069.9,1031.8 L1064.3,1022.9 L1047.5,1005.0 Z"/>
<path class="p" d="M1058.7,991.6 L1057.6,1005.0 L1069.9,1013.9 L1075.4,1001.7"/>
<path class="p" d="M1069.9,1013.9 L1069.9,1031.8"/>
<ellipse class="tw" cx="1052.0" cy="1008.3" rx="9.4" ry="4.9" transform="rotate(30 1052.0 1008.3)"/>
<ellipse class="tw" cx="1049.8" cy="1013.9" rx="9.4" ry="4.9" transform="rotate(30 1049.8 1013.9)"/>
<ellipse class="tw" cx="1047.5" cy="1018.4" rx="8.9" ry="4.7" transform="rotate(30 1047.5 1018.4)"/>
<ellipse class="tw" cx="1054.2" cy="1028.4" rx="8.0" ry="4.2" transform="rotate(30 1054.2 1028.4)"/>
<ellipse class="tw" cx="1050.9" cy="1034.0" rx="8.0" ry="4.2" transform="rotate(30 1050.9 1034.0)"/>
<path class="w" d="M882.0,1198.0 L884.2,1199.6 L876.4,1224.8 L873.8,1223.7 Z"/>
<path class="w" d="M912.1,1213.6 L920.0,1214.7 L903.2,1266.1 L896.5,1268.3 Z"/>
<path class="w" d="M869.7,1224.8 L874.2,1228.1 L905.4,1238.8 L894.3,1275.0 L886.5,1276.1 L857.5,1261.6 Z"/>
<path class="t" d="M870.8,1225.9 C873.3,1227.2 879.7,1231.5 885.4,1233.7 C891.0,1235.9 901.7,1238.0 905.0,1238.8"/>
<path class="w" d="M861.9,1267.2 L886.5,1277.2 L884.2,1280.6 L859.7,1271.7 Z"/>
<path d="M852.3,1319.6 C848.9,1326.5 838.0,1349.0 831.8,1360.9 C825.6,1372.8 818.6,1383.8 815.0,1391.1 C811.5,1398.3 810.8,1400.0 810.6,1404.5 C810.4,1408.9 813.4,1415.6 813.9,1417.9" fill="none" stroke="#000" stroke-width="22.40" stroke-linecap="butt" stroke-linejoin="round"/>
<path d="M852.3,1319.6 C848.9,1326.5 838.0,1349.0 831.8,1360.9 C825.6,1372.8 818.6,1383.8 815.0,1391.1 C811.5,1398.3 810.8,1400.0 810.6,1404.5 C810.4,1408.9 813.4,1415.6 813.9,1417.9" fill="none" stroke="#fff" stroke-width="19.00" stroke-linecap="butt" stroke-linejoin="round"/>

<path class="w" d="M855.2,1275.0 L884.2,1280.6 L884.9,1283.9 L869.7,1316.3 L865.3,1322.3 L844.1,1316.3 L842.5,1306.2 Z"/>
<path class="p" d="M858.6,1281.7 L850.8,1306.2 L856.3,1308.9 L866.4,1283.9 Z"/>
<path class="p" d="M872.0,1286.6 L863.0,1310.7 L868.6,1314.1 L879.8,1289.5 Z"/>
<path class="p" d="M845.2,1310.7 L866.4,1318.5"/>
<path d="M811.7,1393.3 C809.8,1394.8 803.1,1396.3 800.5,1402.2 C797.9,1408.2 796.9,1421.6 796.1,1429.0 C795.2,1436.5 794.8,1440.3 795.5,1447.0 C796.1,1453.7 797.5,1464.1 800.0,1469.3 C802.4,1474.5 808.3,1476.7 810.0,1478.2" fill="none" stroke="#000" stroke-width="20.40" stroke-linecap="butt" stroke-linejoin="round"/>
<path d="M811.7,1393.3 C809.8,1394.8 803.1,1396.3 800.5,1402.2 C797.9,1408.2 796.9,1421.6 796.1,1429.0 C795.2,1436.5 794.8,1440.3 795.5,1447.0 C796.1,1453.7 797.5,1464.1 800.0,1469.3 C802.4,1474.5 808.3,1476.7 810.0,1478.2" fill="none" stroke="#fff" stroke-width="17.00" stroke-linecap="butt" stroke-linejoin="round"/>

<path d="M433.9,1638.6 C443.6,1635.2 467.0,1627.4 492.0,1618.5 C516.9,1609.6 553.5,1596.5 583.5,1585.0 C613.4,1573.5 638.9,1560.7 671.6,1549.6 C704.3,1538.6 755.7,1529.6 779.9,1518.8 C804.0,1508.1 805.5,1495.8 816.7,1484.9 C827.9,1474.0 841.8,1458.9 846.8,1453.7" fill="none" stroke="#000" stroke-width="18.40" stroke-linecap="butt" stroke-linejoin="round"/>
<path d="M433.9,1638.6 C443.6,1635.2 467.0,1627.4 492.0,1618.5 C516.9,1609.6 553.5,1596.5 583.5,1585.0 C613.4,1573.5 638.9,1560.7 671.6,1549.6 C704.3,1538.6 755.7,1529.6 779.9,1518.8 C804.0,1508.1 805.5,1495.8 816.7,1484.9 C827.9,1474.0 841.8,1458.9 846.8,1453.7" fill="none" stroke="#fff" stroke-width="15.00" stroke-linecap="butt" stroke-linejoin="round"/>

<path d="M425.0,1658.2 C420.2,1663.8 404.5,1681.3 396.0,1691.7 C387.4,1702.1 380.5,1711.0 373.7,1720.7 C366.8,1730.4 358.5,1740.8 354.7,1749.7 C350.9,1758.7 350.0,1764.6 350.9,1774.3 C351.8,1784.0 354.2,1797.7 360.3,1807.8 C366.3,1817.8 376.6,1828.0 387.1,1834.6 C397.5,1841.1 400.1,1841.2 422.8,1847.1 C445.5,1852.9 497.9,1865.7 523.2,1869.8 C548.5,1873.9 556.7,1872.6 574.6,1871.6 C592.4,1870.6 621.1,1865.1 630.4,1863.8" fill="none" stroke="#000" stroke-width="36.40" stroke-linecap="butt" stroke-linejoin="round"/>
<path d="M425.0,1658.2 C420.2,1663.8 404.5,1681.3 396.0,1691.7 C387.4,1702.1 380.5,1711.0 373.7,1720.7 C366.8,1730.4 358.5,1740.8 354.7,1749.7 C350.9,1758.7 350.0,1764.6 350.9,1774.3 C351.8,1784.0 354.2,1797.7 360.3,1807.8 C366.3,1817.8 376.6,1828.0 387.1,1834.6 C397.5,1841.1 400.1,1841.2 422.8,1847.1 C445.5,1852.9 497.9,1865.7 523.2,1869.8 C548.5,1873.9 556.7,1872.6 574.6,1871.6 C592.4,1870.6 621.1,1865.1 630.4,1863.8" fill="none" stroke="#fff" stroke-width="33.00" stroke-linecap="butt" stroke-linejoin="round"/>

<path d="M628.1,1864.2 C638.6,1861.5 680.6,1850.3 691.1,1847.5" fill="none" stroke="#000" stroke-width="45.40" stroke-linecap="butt" stroke-linejoin="round"/>
<path d="M628.1,1864.2 C638.6,1861.5 680.6,1850.3 691.1,1847.5" fill="none" stroke="#fff" stroke-width="42.00" stroke-linecap="butt" stroke-linejoin="round"/>

<ellipse class="p" cx="634.8" cy="1861.6" rx="6.0" ry="20.0" transform="rotate(-15 634.8 1861.6)"/>
<path d="M673.7,1847.9 C677.0,1847.0 687.4,1845.2 693.8,1842.4 C700.1,1839.6 706.2,1837.0 711.6,1831.2 C717.0,1825.4 723.2,1819.5 726.1,1807.8 C729.0,1796.0 728.5,1778.4 729.0,1760.9 C729.5,1743.4 729.0,1712.5 729.0,1702.9" fill="none" stroke="#000" stroke-width="19.40" stroke-linecap="butt" stroke-linejoin="round"/>
<path d="M673.7,1847.9 C677.0,1847.0 687.4,1845.2 693.8,1842.4 C700.1,1839.6 706.2,1837.0 711.6,1831.2 C717.0,1825.4 723.2,1819.5 726.1,1807.8 C729.0,1796.0 728.5,1778.4 729.0,1760.9 C729.5,1743.4 729.0,1712.5 729.0,1702.9" fill="none" stroke="#fff" stroke-width="16.00" stroke-linecap="butt" stroke-linejoin="round"/>

<ellipse class="w" cx="684.8" cy="1843.5" rx="7.0" ry="23.0" transform="rotate(-15 684.8 1843.5)"/>
<path d="M413.8,1645.9 C404.9,1655.4 369.7,1690.4 360.3,1702.9 C350.8,1715.3 357.3,1712.9 357.1,1720.7 C357.0,1728.5 357.0,1742.1 359.4,1749.7 C361.8,1757.4 365.0,1761.5 371.4,1766.5 C377.9,1771.5 393.8,1777.6 398.2,1779.9" fill="none" stroke="#000" stroke-width="21.40" stroke-linecap="butt" stroke-linejoin="round"/>
<path d="M413.8,1645.9 C404.9,1655.4 369.7,1690.4 360.3,1702.9 C350.8,1715.3 357.3,1712.9 357.1,1720.7 C357.0,1728.5 357.0,1742.1 359.4,1749.7 C361.8,1757.4 365.0,1761.5 371.4,1766.5 C377.9,1771.5 393.8,1777.6 398.2,1779.9" fill="none" stroke="#fff" stroke-width="18.00" stroke-linecap="butt" stroke-linejoin="round"/>

<path d="M420.5,1802.2 C426.5,1804.6 446.0,1814.3 456.2,1816.7 C466.5,1819.1 464.8,1821.2 481.9,1816.7 C499.0,1812.2 546.1,1794.4 558.9,1789.9" fill="none" stroke="#000" stroke-width="21.40" stroke-linecap="butt" stroke-linejoin="round"/>
<path d="M420.5,1802.2 C426.5,1804.6 446.0,1814.3 456.2,1816.7 C466.5,1819.1 464.8,1821.2 481.9,1816.7 C499.0,1812.2 546.1,1794.4 558.9,1789.9" fill="none" stroke="#fff" stroke-width="18.00" stroke-linecap="butt" stroke-linejoin="round"/>

<path d="M551.2,1782.5 L557.7,1800.4" fill="none" stroke="#000" stroke-width="1.3"/>
<path d="M557.9,1780.1 L564.4,1797.9" fill="none" stroke="#000" stroke-width="1.3"/>
<path d="M376.8,1665.8 L390.6,1677.4" fill="none" stroke="#000" stroke-width="1.3"/>
<path d="M354.8,1750.4 L372.5,1753.5" fill="none" stroke="#000" stroke-width="1.3"/>
<path d="M433.9,1624.7 C436.2,1621.4 442.1,1608.7 447.3,1604.6 C452.5,1600.6 462.2,1601.3 465.2,1600.6" fill="none" stroke="#000" stroke-width="22.40" stroke-linecap="butt" stroke-linejoin="round"/>
<path d="M433.9,1624.7 C436.2,1621.4 442.1,1608.7 447.3,1604.6 C452.5,1600.6 462.2,1601.3 465.2,1600.6" fill="none" stroke="#fff" stroke-width="19.00" stroke-linecap="butt" stroke-linejoin="round"/>

<path d="M462.9,1600.6 L614.7,1600.6 L693.9,1566.4 L777.6,1530.7 L816.7,1500.5 L854.6,1462.6" fill="none" stroke="#000" stroke-width="22.40" stroke-linecap="butt" stroke-linejoin="round"/>
<path d="M462.9,1600.6 L614.7,1600.6 L693.9,1566.4 L777.6,1530.7 L816.7,1500.5 L854.6,1462.6" fill="none" stroke="#fff" stroke-width="19.00" stroke-linecap="butt" stroke-linejoin="round"/>

<path d="M611.4,1591.1 L611.4,1610.1" fill="none" stroke="#000" stroke-width="1.3"/>
<path d="M618.7,1589.0 L622.0,1607.7" fill="none" stroke="#000" stroke-width="1.3"/>
<path d="M769.2,1524.1 L777.2,1541.3" fill="none" stroke="#000" stroke-width="1.3"/>
<path d="M777.8,1519.5 L788.7,1535.1" fill="none" stroke="#000" stroke-width="1.3"/>
<path class="w" d="M404.9,1634.8 L421.7,1613.6 L433.9,1610.2 L445.1,1615.8 L446.2,1627.0 L430.6,1649.3 L427.2,1656.0 L420.5,1657.1 L404.9,1638.1 Z"/>
<path class="p" d="M406.0,1635.9 L420.5,1633.7 L430.6,1649.3"/>
<path class="p" d="M421.7,1613.6 L425.0,1633.7 L442.9,1615.8"/>
<path class="p" d="M425.0,1633.7 L428.3,1654.9"/>
</g>

<!-- 44_clips.svg -->
<!-- clip bracket: z11 [300,1560,700,1860] -->
<g transform="translate(300,1560) scale(0.223214)">
<path class="tw" d="M440,720 C450,690 470,675 490,665 L640,588 C670,575 720,575 745,590 L860,650 L935,665 L948,680 L945,700 L795,805 L780,805 L690,742 C670,732 640,735 620,748 C590,770 568,800 568,830 L572,1050 L540,1070 L520,1120 L545,1170 L560,1344 L430,1344 L380,1080 C380,1030 400,990 430,960 L438,900 Z"/>
<path class="p" d="M795,805 L800,770 L945,672 M780,805 L785,772 L690,715 M455,730 C465,700 485,685 505,675 M560,835 L562,1040"/>
<path class="t" d="M480,830 C478,760 500,720 530,700 L660,628 C690,615 720,630 712,650 L565,735 C540,750 528,780 525,830 C525,870 480,870 480,830 Z"/>
<path class="p" d="M498,825 C498,770 515,735 545,715 L665,648 M540,700 L555,735 M498,830 C505,850 520,845 522,830"/>
<ellipse class="t" cx="775" cy="697" rx="50" ry="24" transform="rotate(-18 775 697)"/>
<ellipse class="p" cx="785" cy="697" rx="28" ry="12" transform="rotate(-18 785 697)"/>
<!-- strap & screw -->
<path class="tw" d="M438,905 L520,935 L550,965 L552,1030 L520,1060 L470,1060 L420,1030 L395,1060 C380,1040 390,990 430,960 Z"/>
<ellipse class="t" cx="485" cy="965" rx="24" ry="28"/>
<ellipse class="p" cx="483" cy="967" rx="10" ry="12"/>
<!-- upper P-clamp ring around return pipe -->
<ellipse class="tw" cx="548" cy="1092" rx="34" ry="58" transform="rotate(-25 548 1092)"/>
<ellipse class="tw" cx="562" cy="1098" rx="24" ry="46" transform="rotate(-25 562 1098)"/>
<!-- lower clamp around hose 4 -->
<path class="tw" d="M345,1190 C340,1140 380,1100 420,1095 L430,1340 L380,1300 C355,1270 345,1230 345,1190 Z"/>
<path class="tw" d="M395,1180 C400,1150 440,1140 470,1150 C495,1160 495,1200 490,1230 L470,1340 L430,1340 L405,1300 C395,1260 392,1210 395,1180 Z"/>
<path class="p" d="M415,1200 C418,1175 445,1168 462,1175 C478,1182 476,1210 472,1235 L458,1320 M430,1215 C432,1195 452,1192 458,1205 L448,1300"/>
<ellipse class="tw" cx="525" cy="1270" rx="36" ry="78" transform="rotate(-20 525 1270)"/>
<ellipse class="tw" cx="545" cy="1275" rx="26" ry="64" transform="rotate(-20 545 1275)"/>
<path class="tw" d="M430,1340 L435,1390 L470,1420 L540,1450 L575,1440 L580,1380 L545,1360 L510,1350 Z"/>
<ellipse class="p" cx="485" cy="1385" rx="16" ry="20"/>
</g>
<!-- grommet clamp near bolt 9 : z10 [560,1380,960,1680] -->
<g transform="translate(560,1380) scale(0.223214)">
<path class="tw" d="M1110,200 L1130,130 L1190,85 L1240,100 L1290,150 L1330,125 C1350,115 1370,130 1360,150 L1300,180 L1250,330 L1200,290 Z"/>
<path class="p" d="M1130,130 L1225,185 L1240,100 M1225,185 L1215,290 M1110,200 L1210,260"/>
<path class="t" d="M1120,215 L1215,300 M1112,205 L1105,215 L1205,305"/>
<path class="tw" d="M1235,250 C1230,190 1290,160 1330,180 C1375,205 1390,300 1385,430 L1360,470 C1300,420 1260,360 1235,250 Z"/>
<ellipse class="tw" cx="1290" cy="245" rx="48" ry="72" transform="rotate(20 1290 245)"/>
<ellipse class="t" cx="1298" cy="250" rx="30" ry="52" transform="rotate(20 1298 250)"/>
<!-- lower grommet -->
<path class="tw" d="M1100,600 C1090,570 1120,545 1160,540 L1250,505 C1290,490 1340,500 1355,530 L1360,590 C1330,640 1290,650 1250,655 L1160,680 C1130,690 1105,660 1100,600 Z"/>
<ellipse class="tw" cx="1135" cy="615" rx="32" ry="60" transform="rotate(15 1135 615)"/>
<ellipse class="t" cx="1125" cy="618" rx="18" ry="34" transform="rotate(15 1125 618)"/>
<path class="t" d="M1250,510 C1275,540 1285,610 1262,652 M1275,503 C1300,535 1308,600 1288,645"/>
</g>

<!-- 50_pump_top.svg -->
<g transform="translate(1180,1440) scale(0.223214)">
<!-- back bracket plate -->
<path class="wq" d="M295,405 L330,360 C380,320 500,300 580,290 L620,240 C680,150 740,100 800,90 L850,92 L880,105 L882,405 L760,470 L640,560 L620,700 L700,900 L760,1000 L640,1060 L470,1010 L330,1100 L320,1230 L160,1344 L110,1344 L140,1270 L270,1160 L280,1130 L240,1090 C205,1030 205,960 225,910 C265,840 285,760 290,700 Z"/>
<path class="tq" d="M295,405 L330,360 C380,320 500,300 580,290 L620,240 C680,150 740,100 800,90 L850,92 M295,405 L290,700 C285,760 265,840 225,910 C205,960 205,1030 240,1090 L280,1130 L270,1160 L140,1270 L110,1344"/>
<path class="q" d="M312,430 L345,380 C400,340 500,318 590,305 L635,250 C690,170 750,112 810,105 M312,430 L306,700 C300,770 282,850 242,915 C222,965 224,1025 255,1080 L298,1125 M880,105 L882,405 M820,100 L822,230 M850,92 L850,100"/>
<path class="q" d="M455,370 C445,450 445,540 440,600 C430,700 400,790 400,860 C400,920 405,960 415,975 L470,1000 M470,360 L590,340 L660,250 M660,250 L655,520 M680,265 L672,500 M380,800 L360,810 L330,960 M360,960 L345,1020 L470,1060"/>
<ellipse class="q" cx="372" cy="560" rx="24" ry="42" transform="rotate(28 372 560)"/>
<ellipse class="q" cx="745" cy="325" rx="22" ry="40" transform="rotate(28 745 325)"/>
<path class="q" d="M530,530 C540,500 580,485 605,500 L625,520 M535,545 L560,555 L600,520 M545,535 L570,540 M570,630 C580,650 600,665 615,670 L650,650 C660,700 650,740 640,800 L700,900"/>
<!-- hose/tube under bracket: curved strap -->
<path class="q" d="M700,640 C690,660 700,690 720,700 L740,700 C750,760 770,820 800,850 L905,900 M735,600 C715,610 700,625 700,640 M735,600 L790,585 M720,700 C730,780 760,850 790,870 L900,920 M640,800 C660,850 700,880 760,910"/>
<!-- connector box (motor electronics cover) -->
<path class="wq" d="M880,450 L985,385 L1040,400 L1150,440 C1175,460 1180,480 1185,500 L1190,560 L1100,660 L1030,1000 L930,1015 L905,1000 L770,985 L860,470 Z"/>
<path class="tq" d="M985,385 L1040,400 L1150,440"/>
<path class="q" d="M880,450 L985,385 M900,440 L990,535 L1020,545 L1160,495 M880,450 L990,540 M1020,545 L1010,560 L930,1010 M990,540 L985,545 L905,1000 M860,470 L770,985 M875,475 L785,990 M1150,440 C1175,460 1180,480 1185,500 M1040,400 L960,420 M1010,560 C1020,600 1060,640 1100,660"/>
<!-- inner tubes -->
<path class="q" d="M1085,660 L1030,1000 M1060,655 L1005,1000 M1160,690 L1095,1100 M1135,700 L1120,800 M1100,660 C1130,650 1170,660 1185,700 C1200,760 1190,800 1180,840"/>
<!-- reservoir tube -->
<path class="wq" d="M1185,720 L1095,1100 L1120,1160 L1300,1150 L1310,1170 L1385,1150 L1465,740 Z"/>
<path class="q" d="M1185,720 L1100,1090 M1465,740 L1385,1130 M1440,745 L1365,1120 M1100,1090 C1150,1110 1250,1100 1300,1080 L1310,1150 C1340,1160 1380,1150 1400,1130 M1300,1080 L1385,1075"/>
<!-- motor top dome -->
<path class="f" d="M610,1180 C615,1100 680,1030 760,1000 L800,985 L905,1000 L1030,1000 L1095,1100 L1120,1160 L1300,1080 L1320,1380 L600,1380 Z"/>
<path class="tq" d="M610,1380 L610,1180 C615,1100 680,1030 760,1000"/>
<path class="q" d="M640,1060 L720,1000 L770,985 M670,1040 C680,1100 720,1170 800,1220 C900,1270 1020,1290 1140,1290 M640,1120 C660,1200 740,1260 840,1290 C940,1320 1050,1330 1150,1325 M730,1020 L830,1090 M1140,1290 L1150,1344 M1140,1290 L1290,1095"/>
<!-- top block on dome -->
<path class="wq" d="M860,1040 L930,1010 L1010,1040 L1060,1080 L1130,1180 L1120,1200 L1010,1220 L960,1140 L845,1080 Z"/>
<path class="q" d="M860,1040 L960,1100 L1010,1040 M960,1100 L1040,1110 L1130,1180 M845,1080 L830,1090 M960,1140 L975,1210 L1010,1220 M1040,1110 L1000,1130 L960,1140 M870,1000 L880,1030 M920,990 L935,1010"/>
<!-- right tab -->
<path class="f" d="M1300,1085 L1320,1080 L1330,1160 L1310,1190 L1290,1380 L1140,1380 L1160,1230 Z"/><path class="q" d="M1300,1085 L1320,1080 L1330,1160 L1310,1190 L1295,1344"/>
<path class="q" d="M1160,1230 L1300,1085 M1180,1240 L1310,1110 M1160,1230 L1140,1344 M1330,1160 L1340,1180 L1335,1344"/>
<ellipse class="q" cx="1228" cy="1200" rx="14" ry="36" transform="rotate(42 1228 1200)"/>
<ellipse class="q" cx="1228" cy="1200" rx="7" ry="26" transform="rotate(42 1228 1200)"/>
<!-- bold label marks -->
<path d="M620,1245 L660,1275 L640,1285 Z M660,1255 L700,1280 L690,1295 L655,1275 Z M705,1275 L715,1310 M725,1280 L735,1315 M745,1285 L755,1320 M765,1290 L775,1322 M785,1295 L795,1325 M625,1300 L690,1335 M640,1320 L720,1344" fill="#000" stroke="#000" stroke-width="2.4" vector-effect="non-scaling-stroke"/>
<!-- bolt & washers top-left of motor -->
<path class="f" d="M320,1150 C320,1100 360,1060 420,1060 L460,1070 L470,1010 L520,1080 L510,1380 L320,1380 Z"/><path class="q" d="M470,1010 L520,1080 L512,1344"/>
<ellipse class="tq" cx="388" cy="1135" rx="72" ry="42" transform="rotate(-12 388 1135)"/>
<ellipse class="q" cx="390" cy="1120" rx="60" ry="34" transform="rotate(-12 390 1120)"/>
<path class="wq" d="M380,1090 L395,1065 L435,1058 L452,1075 L448,1100 L420,1118 L385,1112 Z"/>
<path class="q" d="M385,1112 L395,1085 L435,1080 L448,1100 M395,1085 L380,1090 M435,1080 L435,1058"/>
<path class="tq" d="M318,1150 C330,1200 400,1215 455,1190 M320,1170 C335,1220 400,1235 450,1212 M325,1190 C340,1235 400,1250 445,1232"/>
<path class="q" d="M330,1210 L280,1344 M350,1225 L300,1344 M510,1090 L505,1200 M520,1100 C540,1090 590,1080 610,1085 M505,1200 C520,1220 560,1215 600,1200 M560,1130 L570,1180 M590,1120 C570,1130 570,1160 590,1170"/>
<!-- hook bottom-left -->
<path class="q" d="M175,1175 C165,1155 185,1135 210,1140 L240,1160 M185,1185 L215,1165 L250,1185 M215,1165 L230,1200"/>
<path class="q" d="M160,1344 C170,1300 200,1280 230,1275 M215,1344 C215,1320 230,1300 250,1295"/>
</g>

<!-- 52_pump_mid.svg -->
<g transform="translate(1150,1700) scale(0.223214)">
<!-- left bracket lower strap -->
<path class="f" d="M245,180 L300,100 L420,30 L440,180 L700,180 L740,182 L1480,182 L1470,330 L1400,700 L1440,900 L1100,1000 L640,900 L560,720 L330,570 L215,420 C200,330 215,250 245,180 Z"/>
<path class="tq" d="M275,100 C240,150 215,250 210,330 C205,400 230,450 290,500 L380,560 L560,700 L600,760"/>
<path class="q" d="M290,120 C255,170 232,260 228,335 C225,395 248,440 300,482 L390,542 M275,100 L330,30 M330,130 C320,145 325,165 345,170 L560,270 M345,140 L600,290 M320,150 L340,180"/>
<path class="q" d="M360,200 C350,260 345,320 360,360 L400,400 M400,200 C385,260 385,320 400,350 L440,385 M440,230 C430,280 435,330 450,360 L480,400 M480,120 L500,180 L560,150"/>
<path class="q" d="M260,370 C270,350 300,350 310,365 L330,420 C320,460 290,470 275,450 Z"/>
<!-- left mount with oval -->
<path class="wq" d="M330,470 C340,430 400,425 440,450 L490,500 C500,540 470,585 430,580 L350,540 C330,520 325,495 330,470 Z"/>
<ellipse class="q" cx="410" cy="508" rx="40" ry="20" transform="rotate(25 410 508)"/>
<ellipse class="q" cx="412" cy="510" rx="24" ry="10" transform="rotate(25 412 510)"/>
<path class="q" d="M470,590 C490,570 540,570 580,600 L600,620 C580,640 520,640 490,620 Z M500,600 C520,590 550,595 565,610"/>
<!-- round boss -->
<ellipse class="wq" cx="582" cy="492" rx="42" ry="44"/>
<ellipse class="tq" cx="572" cy="492" rx="22" ry="26"/>
<path class="q" d="M540,400 L520,470 L500,560 M560,330 L530,400 L620,440 L700,520"/>
<!-- motor body bands -->
<path class="tq" d="M735,-30 L735,250 C800,300 900,330 1000,340 C1150,350 1350,330 1465,230 L1470,-30"/>
<path class="q" d="M740,90 C800,150 950,200 1100,200 C1250,195 1400,150 1468,90 M735,250 L745,300 C800,350 900,380 1000,390 C1150,400 1340,380 1440,300 L1465,230 M1440,300 L1440,350 M745,300 L750,330"/>
<path class="q" d="M760,330 C850,400 1000,430 1120,430 C1250,425 1380,400 1440,350 M1100,430 L1100,470 M1120,470 C1250,465 1370,440 1420,400 L1440,350"/>
<path class="q" d="M1400,0 L1390,40 M1290,50 L1280,120 L1330,100 M1290,50 C1300,30 1330,20 1340,30"/>
<ellipse class="q" cx="1345" cy="70" rx="10" ry="42" transform="rotate(40 1345 70)"/>
<!-- bold label marks on motor -->
<path d="M755,85 L795,120 L775,128 Z M795,100 L835,125 L825,140 L790,120 Z M840,120 L850,160 M860,125 L870,165 M880,132 L890,170 M900,138 L910,172 M920,142 L928,176 M760,140 L825,175 M775,160 L850,195 M790,185 L860,215" fill="#000" stroke="#000" stroke-width="2.6" vector-effect="non-scaling-stroke"/>
<ellipse class="tq" cx="912" cy="196" rx="14" ry="14"/>
<path class="tq" d="M690,120 L680,250 M705,125 L695,255 M720,160 L715,260 M745,230 L830,260 L825,300 L745,275 M810,150 L800,270 M850,170 L845,280"/>
<path class="tq" d="M620,0 L600,240 M640,100 L630,230 M590,250 L720,330 M560,330 L540,400 M600,350 L640,390 M690,390 L730,410 L700,480 M760,440 L740,500 M800,470 L780,520"/>
<!-- mount tab w/ oval -->
<path class="wq" d="M1000,560 L1010,400 C1020,350 1090,340 1110,380 L1105,470 L1060,540 Z"/>
<path class="tq" d="M1000,560 L1010,400 C1020,350 1090,340 1110,380 L1105,470 L1060,540"/>
<path class="q" d="M1040,410 C1040,395 1080,395 1080,410 L1078,460 C1078,475 1040,475 1040,460 Z M1050,415 L1050,460"/>
<!-- central arm -->
<path class="wq" d="M650,520 L700,505 L830,520 L950,540 L960,600 L900,610 L880,700 L1040,1000 L1000,1060 L800,850 L640,780 L600,700 Z"/>
<path class="tq" d="M660,525 L830,555 L950,540 L960,600 L900,610 L880,700"/>
<path class="q" d="M700,505 L830,520 L950,540 M830,520 L830,555 M880,700 L1040,1000 M860,740 L1010,1040 M640,780 C700,800 760,830 800,870 L960,1050"/>
<!-- rubber mount with bolt -->
<path class="wq" d="M605,640 C600,600 660,570 720,585 C780,600 800,640 795,670 L800,720 C780,760 700,770 650,750 C615,735 600,700 605,670 Z"/>
<ellipse class="tq" cx="700" cy="625" rx="95" ry="48" transform="rotate(8 700 625)"/>
<ellipse class="q" cx="702" cy="612" rx="72" ry="34" transform="rotate(8 702 612)"/>
<path class="wq" d="M665,595 L690,580 L730,585 L745,605 L735,625 L700,635 L668,622 Z"/>
<path class="q" d="M668,622 L680,600 L725,600 L735,625 M680,600 L665,595 M725,600 L730,585"/>
<path class="tq" d="M608,665 C640,715 760,720 798,672 M612,690 C645,735 760,742 800,698 M622,715 C655,755 750,760 795,722"/>
<!-- lower body of motor -->
<path class="q" d="M880,700 C950,730 1100,750 1200,740 C1300,730 1400,700 1440,660 L1440,350 M1380,450 L1370,680 M1400,440 L1395,690 M1290,460 L1240,700 M1310,460 L1260,720 M1340,480 L1330,700"/>
<path class="q" d="M1390,500 L1450,520 L1445,560 L1385,580 M1440,600 C1460,640 1450,700 1420,730 M1350,790 C1400,800 1420,830 1400,870 M1240,700 L1230,760 M900,760 C1000,800 1150,810 1260,790 L1350,790"/>
<path class="q" d="M940,830 C1000,810 1100,800 1200,810 M1000,880 L1200,860 L1260,900 M960,800 L1000,880"/>
<!-- struts -->
<path class="wq" d="M1230,700 L1290,720 L1390,1140 L1350,1150 Z"/>
<path class="q" d="M1260,715 L1370,1145"/>
<!-- base top: connectors -->
<path class="f" d="M470,790 L560,760 L640,800 L800,870 L1000,1060 L1040,1000 L1200,860 L1450,980 L1740,1120 L1740,1400 L640,1400 L620,1160 L480,1000 L420,940 C415,900 440,850 470,790 Z"/>
<path class="q" d="M470,790 L560,760 L640,800 L800,870 L1000,1060 M1200,860 L1450,980"/>
<path class="tq" d="M470,790 C440,850 415,900 420,940 L480,1000 M455,830 L470,1000"/>
<path class="q" d="M500,780 C470,850 465,900 475,960 L620,1130 M560,760 C540,800 535,850 545,900 M420,940 L440,990 L620,1160 M470,1050 L600,1180"/>
<path class="q" d="M830,1120 L1000,1065 M1450,980 L1740,1120 M830,1120 L900,1190"/>
<!-- fins -->
<path class="tq" d="M640,880 L625,1000 M660,870 L645,1000 M680,880 L665,1010 M700,890 L688,1020 M720,900 L708,1020 M745,910 L735,1000 M770,900 L765,990"/>
<path class="q" d="M640,930 C680,900 720,910 740,950 L700,1000 C680,1010 650,1000 640,980 Z M690,920 L690,990"/>
<path class="q" d="M640,1060 L630,1180 M665,1060 L655,1190 M690,1070 L685,1190 M715,1080 L705,1180 M640,1060 C660,1040 700,1045 720,1065 M760,1200 C770,1100 800,1040 850,1000 M785,1200 C795,1110 820,1060 870,1020"/>
<!-- connector cylinders -->
<path class="wq" d="M1010,925 C1010,890 1130,885 1145,925 L1150,960 L1060,1190 L960,1170 Z"/>
<ellipse class="tq" cx="1078" cy="922" rx="68" ry="28"/>
<ellipse class="q" cx="1078" cy="925" rx="50" ry="18"/>
<path class="q" d="M1010,925 L960,1170 M1040,945 L990,1180"/>
<path d="M975,1060 L960,1150 M990,1060 L975,1160 M1005,1040 L990,1170 M1020,1040 L1005,1175 M1035,1030 L1020,1180" stroke="#000" stroke-width="2.2" fill="none" vector-effect="non-scaling-stroke" stroke-dasharray="3 2"/>
<path class="wq" d="M1095,990 C1095,950 1235,945 1245,990 L1200,1215 C1180,1235 1080,1235 1065,1205 Z"/>
<ellipse class="tq" cx="1170" cy="985" rx="75" ry="32"/>
<ellipse class="q" cx="1170" cy="990" rx="58" ry="22"/>
<path class="q" d="M1065,1205 C1090,1235 1180,1235 1200,1215"/>
<ellipse class="wq" cx="1280" cy="1160" rx="55" ry="28"/>
<path class="q" d="M1225,1165 L1228,1195 C1250,1215 1310,1215 1335,1190 L1335,1160"/>
<!-- right small connector -->
<path class="wq" d="M1440,990 L1470,975 L1545,985 L1550,1010 L1530,1120 L1440,1130 L1425,1100 Z"/>
<path class="q" d="M1440,990 L1425,1100 M1470,975 L1455,1095 M1545,985 L1520,1000 L1455,995 M1520,1000 L1500,1110 M1510,1020 L1505,1060 M1440,1130 L1400,1100 L1390,1120 L1450,1160 L1590,1135 L1600,1100 L1550,1070"/>
<ellipse class="b" cx="1518" cy="1062" rx="7" ry="9"/>
<path class="q" d="M1510,860 L1515,985"/>
</g>

<!-- 54_pump_base.svg -->
<g transform="translate(1200,1880) scale(0.279018)">
<!-- base box body -->
<path class="f" d="M150,100 L190,245 L310,320 L400,400 L430,470 L530,545 L640,588 L720,568 L760,490 L1160,400 L1215,350 L1215,250 L1150,270 L660,380 L640,400 L400,330 L330,290 L200,180 Z"/>
<path class="tq" d="M160,60 L150,100 L158,135 L190,245 L310,320"/>
<path class="q" d="M310,320 L400,400 L400,470 L430,470 L530,545 L640,588 L720,568 L745,500 L770,480 L860,470 L960,478 L1160,400 L1215,350 L1215,250"/>
<path class="q" d="M185,70 L180,110 L215,230 L330,300 M330,290 L400,330 L640,400 C680,380 720,380 770,400 L800,400 M400,330 L400,400 M640,400 L625,560 M710,392 L690,572 M770,400 L770,480 M640,400 L660,380 L1150,270 L1215,250 M720,568 L735,520 L745,500"/>
<path class="q" d="M800,400 C790,420 795,440 820,460 L1150,380 L1165,360 L1162,325 L1140,312 Z M815,415 L1135,335 L1145,345 M825,450 L840,440 L1150,362 M860,470 L880,452 M960,478 L975,462 L1090,432 L1100,420 L1165,405"/>
<ellipse class="q" cx="535" cy="525" rx="13" ry="13"/>
<path class="q" d="M330,330 L335,300 M350,345 L355,312 M370,210 L360,300 M385,215 L378,305 M430,330 L440,250 C445,220 470,200 500,180"/>
<path class="q" d="M190,110 C210,160 260,200 320,225 M205,90 C225,140 270,180 330,205"/>
<path class="q" d="M405,432 L625,510 L700,500 L745,520 M192,250 L205,282 L322,352 L402,432 M748,512 L1165,415 L1215,368 M640,588 L646,556 M530,545 L534,512 M430,470 L432,440 M1165,415 L1162,395 M400,400 L630,478 L700,470 L760,490"/>
<path class="q" d="M155,135 C175,190 230,235 320,262 M170,80 L162,60 M200,180 L330,290"/>
</g>

<!-- 56_caps.svg -->
<g id="caps">
<g transform="translate(1500.5,1477.1) rotate(6.0)">
<path d="M-40.5,0 L-39.0,21.0 A39.0,20.5 0 0 0 39.0,21.0 L40.5,0 Z" fill="#fff" stroke="#000" stroke-width="1.6"/>
<path d="M-40.5,3.0 L-39.9,20.0" stroke="#000" stroke-width="1.5" fill="none"/>
<path d="M-40.3,5.1 L-39.7,22.1" stroke="#000" stroke-width="1.5" fill="none"/>
<path d="M-39.6,7.3 L-39.0,24.3" stroke="#000" stroke-width="1.5" fill="none"/>
<path d="M-38.5,9.3 L-37.9,26.3" stroke="#000" stroke-width="1.5" fill="none"/>
<path d="M-37.0,11.3 L-36.4,28.3" stroke="#000" stroke-width="1.5" fill="none"/>
<path d="M-35.1,13.2 L-34.5,30.2" stroke="#000" stroke-width="1.5" fill="none"/>
<path d="M-32.8,15.0 L-32.3,32.0" stroke="#000" stroke-width="1.5" fill="none"/>
<path d="M-30.1,16.7 L-29.6,33.7" stroke="#000" stroke-width="1.5" fill="none"/>
<path d="M-27.1,18.2 L-26.7,35.2" stroke="#000" stroke-width="1.5" fill="none"/>
<path d="M-23.8,19.6 L-23.4,36.6" stroke="#000" stroke-width="1.5" fill="none"/>
<path d="M-20.3,20.8 L-19.9,37.8" stroke="#000" stroke-width="1.5" fill="none"/>
<path d="M-16.5,21.7 L-16.2,38.7" stroke="#000" stroke-width="1.5" fill="none"/>
<path d="M-12.5,22.5 L-12.3,39.5" stroke="#000" stroke-width="1.5" fill="none"/>
<path d="M-8.4,23.1 L-8.3,40.1" stroke="#000" stroke-width="1.5" fill="none"/>
<path d="M-4.2,23.4 L-4.2,40.4" stroke="#000" stroke-width="1.5" fill="none"/>
<path d="M-0.0,23.5 L-0.0,40.5" stroke="#000" stroke-width="1.5" fill="none"/>
<path d="M4.2,23.4 L4.2,40.4" stroke="#000" stroke-width="1.5" fill="none"/>
<path d="M8.4,23.1 L8.3,40.1" stroke="#000" stroke-width="1.5" fill="none"/>
<path d="M12.5,22.5 L12.3,39.5" stroke="#000" stroke-width="1.5" fill="none"/>
<path d="M16.5,21.7 L16.2,38.7" stroke="#000" stroke-width="1.5" fill="none"/>
<path d="M20.2,20.8 L19.9,37.8" stroke="#000" stroke-width="1.5" fill="none"/>
<path d="M23.8,19.6 L23.4,36.6" stroke="#000" stroke-width="1.5" fill="none"/>
<path d="M27.1,18.2 L26.7,35.2" stroke="#000" stroke-width="1.5" fill="none"/>
<path d="M30.1,16.7 L29.6,33.7" stroke="#000" stroke-width="1.5" fill="none"/>
<path d="M32.8,15.0 L32.3,32.0" stroke="#000" stroke-width="1.5" fill="none"/>
<path d="M35.1,13.2 L34.5,30.2" stroke="#000" stroke-width="1.5" fill="none"/>
<path d="M37.0,11.3 L36.4,28.3" stroke="#000" stroke-width="1.5" fill="none"/>
<path d="M38.5,9.3 L37.9,26.3" stroke="#000" stroke-width="1.5" fill="none"/>
<path d="M39.6,7.3 L39.0,24.3" stroke="#000" stroke-width="1.5" fill="none"/>
<path d="M40.3,5.1 L39.7,22.1" stroke="#000" stroke-width="1.5" fill="none"/>
<path d="M40.5,3.0 L39.9,20.0" stroke="#000" stroke-width="1.5" fill="none"/>
<ellipse cx="0" cy="0" rx="40.5" ry="20.5" fill="#fff" stroke="#000" stroke-width="1.8"/>
<ellipse cx="0" cy="-1" rx="36.5" ry="18.0" fill="none" stroke="#000" stroke-width="1.2"/>
<ellipse cx="1" cy="-3" rx="27.5" ry="13.5" fill="#000"/>
<ellipse cx="1" cy="-3.5" rx="18.6" ry="8.6" fill="#fff"/>
<ellipse cx="1" cy="-3.5" rx="13.8" ry="5.9" fill="none" stroke="#000" stroke-width="1.8"/>
<path d="M-6.9,-5 L8.1,-2 M-4.0,-7 L-4.0,-2 M5.3,-5 L5.3,0" stroke="#000" stroke-width="1.6" fill="none"/>
</g>
<g transform="translate(1480.9,1570.6) rotate(5.0)">
<path d="M-41.5,0 L-40.0,24.0 A40.0,22.5 0 0 0 40.0,24.0 L41.5,0 Z" fill="#fff" stroke="#000" stroke-width="1.6"/>
<path d="M-41.5,3.0 L-40.9,23.0" stroke="#000" stroke-width="1.5" fill="none"/>
<path d="M-41.3,5.4 L-40.7,25.4" stroke="#000" stroke-width="1.5" fill="none"/>
<path d="M-40.6,7.7 L-40.0,27.7" stroke="#000" stroke-width="1.5" fill="none"/>
<path d="M-39.5,10.0 L-38.9,30.0" stroke="#000" stroke-width="1.5" fill="none"/>
<path d="M-37.9,12.2 L-37.3,32.2" stroke="#000" stroke-width="1.5" fill="none"/>
<path d="M-35.9,14.2 L-35.4,34.2" stroke="#000" stroke-width="1.5" fill="none"/>
<path d="M-33.6,16.2 L-33.1,36.2" stroke="#000" stroke-width="1.5" fill="none"/>
<path d="M-30.8,18.1 L-30.4,38.1" stroke="#000" stroke-width="1.5" fill="none"/>
<path d="M-27.8,19.7 L-27.4,39.7" stroke="#000" stroke-width="1.5" fill="none"/>
<path d="M-24.4,21.2 L-24.0,41.2" stroke="#000" stroke-width="1.5" fill="none"/>
<path d="M-20.8,22.5 L-20.4,42.5" stroke="#000" stroke-width="1.5" fill="none"/>
<path d="M-16.9,23.6 L-16.6,43.6" stroke="#000" stroke-width="1.5" fill="none"/>
<path d="M-12.8,24.4 L-12.6,44.4" stroke="#000" stroke-width="1.5" fill="none"/>
<path d="M-8.6,25.0 L-8.5,45.0" stroke="#000" stroke-width="1.5" fill="none"/>
<path d="M-4.3,25.4 L-4.3,45.4" stroke="#000" stroke-width="1.5" fill="none"/>
<path d="M-0.0,25.5 L-0.0,45.5" stroke="#000" stroke-width="1.5" fill="none"/>
<path d="M4.3,25.4 L4.3,45.4" stroke="#000" stroke-width="1.5" fill="none"/>
<path d="M8.6,25.0 L8.5,45.0" stroke="#000" stroke-width="1.5" fill="none"/>
<path d="M12.8,24.4 L12.6,44.4" stroke="#000" stroke-width="1.5" fill="none"/>
<path d="M16.9,23.6 L16.6,43.6" stroke="#000" stroke-width="1.5" fill="none"/>
<path d="M20.7,22.5 L20.4,42.5" stroke="#000" stroke-width="1.5" fill="none"/>
<path d="M24.4,21.2 L24.0,41.2" stroke="#000" stroke-width="1.5" fill="none"/>
<path d="M27.8,19.7 L27.4,39.7" stroke="#000" stroke-width="1.5" fill="none"/>
<path d="M30.8,18.1 L30.4,38.1" stroke="#000" stroke-width="1.5" fill="none"/>
<path d="M33.6,16.2 L33.1,36.2" stroke="#000" stroke-width="1.5" fill="none"/>
<path d="M35.9,14.2 L35.4,34.2" stroke="#000" stroke-width="1.5" fill="none"/>
<path d="M37.9,12.2 L37.3,32.2" stroke="#000" stroke-width="1.5" fill="none"/>
<path d="M39.5,10.0 L38.9,30.0" stroke="#000" stroke-width="1.5" fill="none"/>
<path d="M40.6,7.7 L40.0,27.7" stroke="#000" stroke-width="1.5" fill="none"/>
<path d="M41.3,5.4 L40.7,25.4" stroke="#000" stroke-width="1.5" fill="none"/>
<path d="M41.5,3.0 L40.9,23.0" stroke="#000" stroke-width="1.5" fill="none"/>
<ellipse cx="0" cy="0" rx="41.5" ry="22.5" fill="#fff" stroke="#000" stroke-width="1.8"/>
<ellipse cx="0" cy="-1" rx="37.4" ry="19.8" fill="none" stroke="#000" stroke-width="1.2"/>
<ellipse cx="1" cy="-3" rx="28.2" ry="14.9" fill="#000"/>
<ellipse cx="1" cy="-3.5" rx="19.1" ry="9.4" fill="#fff"/>
<ellipse cx="1" cy="-3.5" rx="14.1" ry="6.5" fill="none" stroke="#000" stroke-width="1.8"/>
<path d="M-7.1,-5 L8.3,-2 M-4.2,-7 L-4.2,-2 M5.4,-5 L5.4,0" stroke="#000" stroke-width="1.6" fill="none"/>
</g>
</g>

<!-- 60_smallparts.svg -->
<!-- nut 12 : zoom [650,230,950,530] s=300/1792 -->
<g transform="translate(650,230) scale(0.167411)">
<ellipse class="tw" cx="740" cy="1212" rx="148" ry="82"/>
<ellipse class="p" cx="740" cy="1205" rx="132" ry="70"/>
<path class="tw" d="M650,1130 L690,1085 L790,1080 L830,1120 L830,1200 L770,1232 L675,1222 L650,1190 Z"/>
<path class="p" d="M650,1130 L675,1160 L770,1170 L830,1120 M675,1160 L675,1222 M770,1170 L770,1232"/>
<ellipse class="t" cx="745" cy="1125" rx="68" ry="40"/>
</g>
<!-- bolt 10 : z4 [1050,660,1450,960] -->
<g transform="translate(1050,660) scale(0.223214)">
<g transform="rotate(40 1300 145)">
<path class="tw" d="M1262,100 C1262,75 1340,75 1340,100 L1340,160 C1340,185 1262,185 1262,160 Z"/>
<ellipse class="p" cx="1301" cy="100" rx="39" ry="18"/>
<path class="tw" d="M1275,178 L1275,285 C1275,300 1327,300 1327,285 L1327,178"/>
<path class="t" d="M1270,195 C1275,212 1327,212 1332,195 M1270,218 C1275,235 1327,235 1332,218 M1270,241 C1275,258 1327,258 1332,241 M1270,264 C1275,281 1327,281 1332,264"/>
<ellipse class="p" cx="1301" cy="290" rx="18" ry="7"/>
</g>
</g>
<!-- bolt 9 & bolt 8 : z10 [560,1380,960,1680] -->
<g transform="translate(560,1380) scale(0.223214)">
<path class="tw" d="M300,455 L380,430 C400,430 400,470 385,480 L320,520 Z"/>
<path class="t" d="M318,450 L335,505 M338,444 L355,497 M358,438 L372,487"/>
<ellipse class="tw" cx="265" cy="508" rx="58" ry="80" transform="rotate(-18 265 508)"/>
<ellipse class="t" cx="258" cy="512" rx="52" ry="74" transform="rotate(-18 258 512)"/>
<ellipse class="p" cx="250" cy="516" rx="46" ry="68" transform="rotate(-18 250 516)"/>
<path class="tw" d="M180,515 L205,490 L262,482 L292,512 L288,562 L245,590 L195,578 L175,545 Z"/>
<path class="p" d="M205,490 L222,525 L262,515 L262,482 M222,525 L225,585 M262,515 L288,562 M180,515 L222,525"/>
<!-- bolt 8 -->
<path class="tw" d="M878,985 C870,950 900,935 935,935 C975,935 1000,960 995,995 L985,1030 L960,1050 L950,1095 C940,1115 885,1110 882,1090 L885,1045 Z"/>
<path class="t" d="M880,990 C900,1010 970,1012 992,992 M886,1030 C905,1045 950,1046 968,1035 M884,1055 C900,1068 940,1070 958,1058 M883,1078 C898,1088 935,1090 952,1080"/>
<ellipse class="p" cx="915" cy="1095" rx="33" ry="14"/>
</g>
<!-- bolt 6, bracket 5 top : z17 [0,1680,400,1980] -->
<g transform="translate(0,1680) scale(0.223214)">
<path class="tw" d="M1440,560 L1495,575 L1520,610 L1520,660 L1490,700 L1440,690 Z"/>
<path class="p" d="M1440,575 L1470,548 L1500,560 L1495,575 M1470,548 L1440,545 M1495,575 L1490,700 M1520,630 L1495,640"/>
<ellipse class="tw" cx="1415" cy="633" rx="62" ry="90" transform="rotate(-12 1415 633)"/>
<ellipse class="p" cx="1422" cy="632" rx="52" ry="80" transform="rotate(-12 1422 632)"/>
<path class="tw" d="M1440,615 L1350,640 L1295,690 C1280,710 1290,725 1310,722 L1390,700 L1440,680 Z"/>
<path class="p" d="M1350,640 C1362,660 1365,690 1355,708 M1385,628 C1398,650 1400,680 1392,698 M1410,622 L1418,690"/>
<ellipse class="p" cx="1425" cy="650" rx="14" ry="22"/>
<!-- clip on bracket 5 -->
<path class="tw" d="M905,850 L940,790 L960,780 L1050,830 L1060,860 L1000,890 L990,950 L945,935 L920,920 Z"/>
<path class="t" d="M940,790 L1030,840 L1000,890 M930,810 L1015,858 M920,830 L1000,875 M915,860 C930,850 960,860 975,880 L975,940 M935,890 C945,880 960,890 965,900 L960,930"/>
<!-- bracket 5 vertical plate -->
<path class="tw" d="M1000,890 L1050,835 L1062,850 L1062,1030 L1075,1045 L1075,1400 L1040,1400 L1040,1050 L1020,1040 L1000,1020 Z"/>
<path class="p" d="M1015,895 L1015,1030 L1030,1045 M1050,835 L1050,1020 M1050,1040 L1050,1344"/>
<!-- left wing -->
<path class="w" d="M780,1080 L880,960 L1000,900 L1000,1020 L1040,1050 L1040,1344 L1000,1320 L940,1270 L920,1215 C915,1185 870,1180 870,1215 L780,1180 Z" style="stroke:none"/>
<path class="p" d="M780,1080 L780,1180 L870,1228 C865,1185 915,1180 925,1215 L935,1260 L1040,1325 M780,1080 L880,960"/>
<!-- foot plate -->
<path class="tw" d="M1075,1095 L1090,1090 L1225,1180 C1232,1195 1228,1215 1215,1225 L1075,1310 Z"/>
<path class="p" d="M1075,1110 L1085,1105 L1210,1188 M1100,1140 C1120,1130 1140,1140 1140,1160 L1140,1185 C1120,1200 1095,1195 1085,1180 M1100,1140 L1085,1150 L1085,1180"/>
</g>
<!-- nut 7 & bottom of bracket : z18 [0,1880,500,2180] s=500/1792 -->
<g transform="translate(0,1880) scale(0.279018)">
<path class="tw" d="M832,300 L832,120 L858,120 L858,345 C858,365 836,365 836,345 Z"/>
<path class="p" d="M845,125 L845,350 M820,290 C815,300 818,330 832,335 M860,318 L895,318 L895,335 L880,345 L865,345"/>
<path class="tw" d="M830,560 L835,600 L860,618 L905,618 L932,598 L935,560 Z"/>
<path class="p" d="M882,585 L882,618"/>
<ellipse class="tw" cx="880" cy="540" rx="66" ry="40"/>
<ellipse class="p" cx="880" cy="537" rx="56" ry="32"/>
<ellipse class="t" cx="880" cy="537" rx="23" ry="14"/>
</g>
<!-- pin 11 : z11 [300,1560,700,1860] -->
<g transform="translate(300,1560) scale(0.223214)">
<path class="tw" d="M1310,905 L1338,890 L1402,1022 L1372,1040 Z"/>
<path class="p" d="M1322,898 L1386,1030"/>
</g>
<!-- fitting plate (8) : z13 [600,1560,1000,1860] -->
<g transform="translate(600,1560) scale(0.223214)">
<path class="tw" d="M500,490 C520,470 570,465 595,480 L700,550 C715,575 710,620 685,640 L620,640 L570,650 C520,655 480,625 480,590 Z"/>
<path class="p" d="M510,500 C530,482 570,478 592,492 L690,558"/>
<ellipse class="t" cx="548" cy="580" rx="45" ry="48"/>
<ellipse class="t" cx="548" cy="582" rx="34" ry="36"/>
<path class="tw" d="M505,590 C505,570 590,570 590,595 L575,635 C560,650 520,650 510,635 Z"/>
<ellipse class="t" cx="650" cy="592" rx="32" ry="32"/>
<ellipse class="p" cx="650" cy="590" rx="20" ry="20"/>
<path class="p" d="M640,580 L660,600 M650,600 L640,625"/>
</g>
<!-- bolt 2 : z16 [1200,1880,1700,2255] -->
<g transform="translate(1200,1880) scale(0.279018)">
<path class="tw" d="M1300,150 C1285,160 1285,195 1305,205 L1440,280 L1470,225 Z"/>
<path class="t" d="M1322,158 L1318,212 M1345,170 L1340,225 M1368,183 L1362,237 M1390,195 L1385,250 M1413,207 L1407,262 M1436,220 L1430,272"/>
<ellipse class="tw" cx="1448" cy="272" rx="20" ry="55" transform="rotate(-20 1448 272)"/>
<path class="tw" d="M1450,235 L1500,215 L1540,240 L1545,300 L1500,345 L1455,325 Z"/>
<path class="p" d="M1450,235 L1480,265 L1540,240 M1480,265 L1485,335 L1500,345 M1455,325 L1485,335"/>
</g>

<!-- 80_leaders.svg -->
<g id="leaders">
<!-- 12 -->
<path class="l" d="M772,326 L772,410"/>
<path class="l" d="M771.7,456 L770.6,515 M770.5,521.5 L770.2,538 M770,549.5 L768.4,640 M768.3,645.5 L767.2,703"/>
<!-- 10 -->
<path class="l" d="M1335.5,574 L1335.5,677"/>
<!-- 9 -->
<path class="l" d="M611,1333.5 L611,1475"/>
<!-- 3 -->
<path class="l" d="M1540.5,1495.2 L1688,1495.2"/>
<!-- 1 -->
<path class="l" d="M1476.5,1735 L1683,1735"/>
</g>

<!-- 82_leaders2.svg -->
<g id="leaders2">
<!-- 9 polyline -->
<path class="d" d="M649.3,1475 L707.3,1437 L756.4,1471 M765.4,1476.4 L783.2,1489.4 L848,1447"/>
<!-- 8 -->
<path class="d" d="M845.5,1563.5 L784.2,1596"/>
<path class="d" d="M762,1631 L749.5,1676"/>
<!-- 6 -->
<path class="d" d="M182,1733.5 L306,1804"/>
<path class="d" d="M288,1837.5 L235.5,1865.3"/>
<!-- 5 -->
<path class="d" d="M88,1951.3 L174,1921"/>
<path class="d" d="M175,1897.6 L211,1879.8 M176,1918 L196.5,1894.5"/>
<!-- 7 -->
<path class="d" d="M245,1976 L245,2025 M245.5,2056.5 L245.5,2074.5"/>
<path class="d" d="M265,2036.3 L363,2093.5"/>
<!-- 11 -->
<path class="d" d="M583.5,1699.5 L599,1760"/>
<path class="d" d="M564.5,1785.5 L627,1764.2"/>
<!-- 4 -->
<path class="l" d="M574.6,1888 L574.6,2012"/>
<!-- 2 -->
<path class="l" d="M1606.8,1975 L1606.8,2127"/>
</g>

<!-- 84_dashed.svg -->
<g id="dashed">
<!-- routing path A -->
<path class="d" d="M1042,1032 L993.9,1089.9"/>
<path class="d" d="M1109,1150.6 L993.9,1089.9" stroke-dasharray="58 11 11 11"/>
<path class="d" d="M1498.9,677.9 L1109,1150.6" stroke-dasharray="57 11 10 11" stroke-dashoffset="11"/>
<path class="d" d="M1619.4,742.6 L1498.9,677.9" stroke-dasharray="58 11 11 11"/>
<path class="d" d="M1619.4,742.6 L1519,860.9" stroke-dasharray="9 20 38 11 10 11 60"/>
<!-- routing path B -->
<path class="d" d="M1045.3,1036.3 L995.1,1101 L991.9,1103.7"/>
<path class="d" d="M1116.2,1166.1 L991.9,1103.7" stroke-dasharray="58 11 11 11"/>
<path class="d" d="M1504.5,700.6 L1116.2,1166.1" stroke-dasharray="57 11 10 11" stroke-dashoffset="15"/>
<path class="d" d="M1625.7,763.8 L1504.5,700.6" stroke-dasharray="58 11 11 11"/>
<path class="d" d="M1625.7,763.8 L1526.8,879.9" stroke-dasharray="66 11 10 11 60"/>
<!-- bolt 10 axis -->
<path class="d" d="M1317,717 L1304.7,731.4 M1295.8,743 L1290.2,749.5 M1281.3,760.5 L1243,803.2 M1238.8,809.5 L1228.3,820.8 M1222,829.2 L1182.3,876.5 M1176,884.8 L1165.5,896.1 M1159.3,903.7 L1123.7,947.6"/>
<!-- pump connection polygon -->
<path class="d" d="M1428.8,1394 L1063.8,1309.2" stroke-dasharray="57 12 11 12" stroke-dashoffset="30"/>
<path class="d" d="M1063.8,1309.2 L878.2,1778" stroke-dasharray="91 12 13 12 58 12 11 12 58 12 11 12 58 12 11 12 58 12 11 12 58 12 11 12"/>
<path class="d" d="M878.2,1778 L704.5,1740.5" stroke-dasharray="13 12 58 13 10 12 60"/>
<path class="d" d="M704.5,1740.5 L712.8,1715.6"/>
<path class="d" d="M1428.8,1394 L1378.7,1529.3" stroke-dasharray="58 12 9 12 11 12 14 12 60"/>
<!-- pump axis lines -->
<path class="d" d="M1213.5,1536 L1244.7,1552.7 M1264.8,1566 L1291.6,1580.6 L1377.6,1530.4 L1351.9,1515.9"/>
<path class="d" d="M1291.6,1580.6 L1285,1740" stroke-dasharray="60 8 10 8"/>
<path class="d" d="M1179,1704.5 L1212.5,1723.4 M1227,1731 L1274.6,1757.8"/>
<path class="d" d="M1274.6,1757.8 L1386.6,1827.2" stroke-dasharray="14 9 30 9 10 9 40"/>
<path class="d" d="M1386.6,1827.2 L1438,1856.3 M1442.4,1859.6 L1451.3,1864 M1467,1874.1 L1520.5,1904.2 M1529.5,1909.8 L1538.4,1915.4 M1541,1914 L1555,1922"/>
</g>

<!-- 90_labels.svg -->
<g id="labels">
<path d="M763.23,303.00 L758.83,303.00 L758.83,275.00 Q756.30,277.40 750.04,281.25 L750.04,277.10 Q757.30,273.50 760.40,267.06 L763.23,267.06 Z" fill="#000"/><text class="n" x="772.4" y="303">2</text>
<path d="M1324.93,549.00 L1320.53,549.00 L1320.53,521.00 Q1318.00,523.40 1311.74,527.25 L1311.74,523.10 Q1319.00,519.50 1322.10,513.06 L1324.93,513.06 Z" fill="#000"/><text class="n" x="1334.1" y="549">0</text>
<path d="M92.23,1237.00 L87.83,1237.00 L87.83,1209.00 Q85.30,1211.40 79.04,1215.25 L79.04,1211.10 Q86.30,1207.50 89.40,1201.06 L92.23,1201.06 Z" fill="#000"/><text class="n" x="101.4" y="1237">3X</text>
<path d="M563.83,1676.00 L559.43,1676.00 L559.43,1648.00 Q556.90,1650.40 550.64,1654.25 L550.64,1650.10 Q557.90,1646.50 561.00,1640.06 L563.83,1640.06 Z" fill="#000"/><path d="M593.23,1676.00 L588.83,1676.00 L588.83,1648.00 Q586.30,1650.40 580.04,1654.25 L580.04,1650.10 Q587.30,1646.50 590.40,1640.06 L593.23,1640.06 Z" fill="#000"/>
<path d="M1719.13,1753.00 L1714.73,1753.00 L1714.73,1725.00 Q1712.20,1727.40 1705.94,1731.25 L1705.94,1727.10 Q1713.20,1723.50 1716.30,1717.06 L1719.13,1717.06 Z" fill="#000"/>
<text class="n" x="596.3" y="1309">9</text>
<text class="n" x="867.3" y="1561">8</text>
<text class="n" x="1709.3" y="1513">3</text>
<text class="n" x="131.3" y="1732">6</text>
<text class="n" x="38.3" y="1981">5</text>
<text class="n" x="383.3" y="2130">7</text>
<text class="n" x="558.3" y="2073">4</text>
<text class="n" x="1592.3" y="2188">2</text>
<text x="1757.0" y="66.4" font-size="37.5">L</text><text x="1777.9" y="66.4" font-size="37.5">4</text><path d="M1812.67,66.40 L1809.37,66.40 L1809.37,45.40 Q1807.48,47.20 1802.78,50.09 L1802.78,46.98 Q1808.23,44.28 1810.55,39.45 L1812.67,39.45 Z" fill="#000"/><text x="1819.6" y="66.4" font-size="37.5">9</text>
<path d="M1916.87,66.40 L1913.57,66.40 L1913.57,45.40 Q1911.68,47.20 1906.98,50.09 L1906.98,46.98 Q1912.43,44.28 1914.75,39.45 L1916.87,39.45 Z" fill="#000"/><path d="M1937.77,66.40 L1934.47,66.40 L1934.47,45.40 Q1932.58,47.20 1927.88,50.09 L1927.88,46.98 Q1933.33,44.28 1935.65,39.45 L1937.77,39.45 Z" fill="#000"/><text x="1944.6" y="66.4" font-size="37.5">/</text><text x="1955.0" y="66.4" font-size="37.5">0</text><path d="M1989.87,66.40 L1986.57,66.40 L1986.57,45.40 Q1984.68,47.20 1979.98,50.09 L1979.98,46.98 Q1985.43,44.28 1987.75,39.45 L1989.87,39.45 Z" fill="#000"/><text x="1996.8" y="66.4" font-size="37.5">/</text><text x="2007.2" y="66.4" font-size="37.5">2</text><text x="2028.0" y="66.4" font-size="37.5">0</text><path d="M2062.87,66.40 L2059.57,66.40 L2059.57,45.40 Q2057.68,47.20 2052.98,50.09 L2052.98,46.98 Q2058.43,44.28 2060.75,39.45 L2062.87,39.45 Z" fill="#000"/><text x="2069.8" y="66.4" font-size="37.5">7</text>
</g>

<!-- 92_highlight.svg -->
<rect x="1670" y="1697" width="91" height="91" fill="#ff0000" fill-opacity="0.5"/>

<!-- 95_footer.svg -->
<g id="footer">
<rect x="0" y="2228" width="2132" height="213" fill="#646464"/>
<text x="339.15" y="2374" font-size="90" fill="#fff" textLength="368.70" lengthAdjust="spacingAndGlyphs">GENERAL</text>
<text x="726.83" y="2374" font-size="90" fill="#fff" textLength="342.26" lengthAdjust="spacingAndGlyphs">MOTORS</text>
<text x="1088.01" y="2374" font-size="90" fill="#fff" textLength="25.97" lengthAdjust="spacingAndGlyphs">-</text>
<text x="1133.92" y="2374" font-size="90" fill="#fff" textLength="380.95" lengthAdjust="spacingAndGlyphs">95519723</text>
<text x="1618.17" y="2374" font-size="90" fill="#fff" textLength="61.25" lengthAdjust="spacingAndGlyphs">N</text>
<text x="1700.01" y="2374" font-size="90" fill="#fff" textLength="25.97" lengthAdjust="spacingAndGlyphs">-</text>
<text x="1749.37" y="2374" font-size="90" fill="#fff" textLength="33.36" lengthAdjust="spacingAndGlyphs">1</text>
</g>

<!-- 99_wm.svg -->
<g id="wm" fill="#000" fill-opacity="0.27" font-size="15.5">
<text text-anchor="middle" transform="translate(33.3,16.8) rotate(-15.5)" x="0" y="5.3" textLength="80" lengthAdjust="spacingAndGlyphs">PartsIndex</text>
<text text-anchor="middle" transform="translate(455.7,16.8) rotate(-15.5)" x="0" y="5.3" textLength="80" lengthAdjust="spacingAndGlyphs">PartsIndex</text>
<text text-anchor="middle" transform="translate(878.1,16.8) rotate(-15.5)" x="0" y="5.3" textLength="80" lengthAdjust="spacingAndGlyphs">PartsIndex</text>
<text text-anchor="middle" transform="translate(1300.5,16.8) rotate(-15.5)" x="0" y="5.3" textLength="80" lengthAdjust="spacingAndGlyphs">PartsIndex</text>
<text text-anchor="middle" transform="translate(1722.9,16.8) rotate(-15.5)" x="0" y="5.3" textLength="80" lengthAdjust="spacingAndGlyphs">PartsIndex</text>
<text text-anchor="middle" transform="translate(2145.3,16.8) rotate(-15.5)" x="0" y="5.3" textLength="80" lengthAdjust="spacingAndGlyphs">PartsIndex</text>
<text text-anchor="middle" transform="translate(33.3,493.0) rotate(-15.5)" x="0" y="5.3" textLength="80" lengthAdjust="spacingAndGlyphs">PartsIndex</text>
<text text-anchor="middle" transform="translate(455.7,493.0) rotate(-15.5)" x="0" y="5.3" textLength="80" lengthAdjust="spacingAndGlyphs">PartsIndex</text>
<text text-anchor="middle" transform="translate(878.1,493.0) rotate(-15.5)" x="0" y="5.3" textLength="80" lengthAdjust="spacingAndGlyphs">PartsIndex</text>
<text text-anchor="middle" transform="translate(1300.5,493.0) rotate(-15.5)" x="0" y="5.3" textLength="80" lengthAdjust="spacingAndGlyphs">PartsIndex</text>
<text text-anchor="middle" transform="translate(1722.9,493.0) rotate(-15.5)" x="0" y="5.3" textLength="80" lengthAdjust="spacingAndGlyphs">PartsIndex</text>
<text text-anchor="middle" transform="translate(2145.3,493.0) rotate(-15.5)" x="0" y="5.3" textLength="80" lengthAdjust="spacingAndGlyphs">PartsIndex</text>
<text text-anchor="middle" transform="translate(33.3,969.2) rotate(-15.5)" x="0" y="5.3" textLength="80" lengthAdjust="spacingAndGlyphs">PartsIndex</text>
<text text-anchor="middle" transform="translate(455.7,969.2) rotate(-15.5)" x="0" y="5.3" textLength="80" lengthAdjust="spacingAndGlyphs">PartsIndex</text>
<text text-anchor="middle" transform="translate(878.1,969.2) rotate(-15.5)" x="0" y="5.3" textLength="80" lengthAdjust="spacingAndGlyphs">PartsIndex</text>
<text text-anchor="middle" transform="translate(1300.5,969.2) rotate(-15.5)" x="0" y="5.3" textLength="80" lengthAdjust="spacingAndGlyphs">PartsIndex</text>
<text text-anchor="middle" transform="translate(1722.9,969.2) rotate(-15.5)" x="0" y="5.3" textLength="80" lengthAdjust="spacingAndGlyphs">PartsIndex</text>
<text text-anchor="middle" transform="translate(2145.3,969.2) rotate(-15.5)" x="0" y="5.3" textLength="80" lengthAdjust="spacingAndGlyphs">PartsIndex</text>
<text text-anchor="middle" transform="translate(33.3,1445.5) rotate(-15.5)" x="0" y="5.3" textLength="80" lengthAdjust="spacingAndGlyphs">PartsIndex</text>
<text text-anchor="middle" transform="translate(455.7,1445.5) rotate(-15.5)" x="0" y="5.3" textLength="80" lengthAdjust="spacingAndGlyphs">PartsIndex</text>
<text text-anchor="middle" transform="translate(878.1,1445.5) rotate(-15.5)" x="0" y="5.3" textLength="80" lengthAdjust="spacingAndGlyphs">PartsIndex</text>
<text text-anchor="middle" transform="translate(1300.5,1445.5) rotate(-15.5)" x="0" y="5.3" textLength="80" lengthAdjust="spacingAndGlyphs">PartsIndex</text>
<text text-anchor="middle" transform="translate(1722.9,1445.5) rotate(-15.5)" x="0" y="5.3" textLength="80" lengthAdjust="spacingAndGlyphs">PartsIndex</text>
<text text-anchor="middle" transform="translate(2145.3,1445.5) rotate(-15.5)" x="0" y="5.3" textLength="80" lengthAdjust="spacingAndGlyphs">PartsIndex</text>
<text text-anchor="middle" transform="translate(33.3,1921.8) rotate(-15.5)" x="0" y="5.3" textLength="80" lengthAdjust="spacingAndGlyphs">PartsIndex</text>
<text text-anchor="middle" transform="translate(455.7,1921.8) rotate(-15.5)" x="0" y="5.3" textLength="80" lengthAdjust="spacingAndGlyphs">PartsIndex</text>
<text text-anchor="middle" transform="translate(878.1,1921.8) rotate(-15.5)" x="0" y="5.3" textLength="80" lengthAdjust="spacingAndGlyphs">PartsIndex</text>
<text text-anchor="middle" transform="translate(1300.5,1921.8) rotate(-15.5)" x="0" y="5.3" textLength="80" lengthAdjust="spacingAndGlyphs">PartsIndex</text>
<text text-anchor="middle" transform="translate(1722.9,1921.8) rotate(-15.5)" x="0" y="5.3" textLength="80" lengthAdjust="spacingAndGlyphs">PartsIndex</text>
<text text-anchor="middle" transform="translate(2145.3,1921.8) rotate(-15.5)" x="0" y="5.3" textLength="80" lengthAdjust="spacingAndGlyphs">PartsIndex</text>
<text text-anchor="middle" transform="translate(33.3,2398.0) rotate(-15.5)" x="0" y="5.3" textLength="80" lengthAdjust="spacingAndGlyphs">PartsIndex</text>
<text text-anchor="middle" transform="translate(455.7,2398.0) rotate(-15.5)" x="0" y="5.3" textLength="80" lengthAdjust="spacingAndGlyphs">PartsIndex</text>
<text text-anchor="middle" transform="translate(878.1,2398.0) rotate(-15.5)" x="0" y="5.3" textLength="80" lengthAdjust="spacingAndGlyphs">PartsIndex</text>
<text text-anchor="middle" transform="translate(1300.5,2398.0) rotate(-15.5)" x="0" y="5.3" textLength="80" lengthAdjust="spacingAndGlyphs">PartsIndex</text>
<text text-anchor="middle" transform="translate(1722.9,2398.0) rotate(-15.5)" x="0" y="5.3" textLength="80" lengthAdjust="spacingAndGlyphs">PartsIndex</text>
<text text-anchor="middle" transform="translate(2145.3,2398.0) rotate(-15.5)" x="0" y="5.3" textLength="80" lengthAdjust="spacingAndGlyphs">PartsIndex</text>
</g>


</svg>
</body></html>
